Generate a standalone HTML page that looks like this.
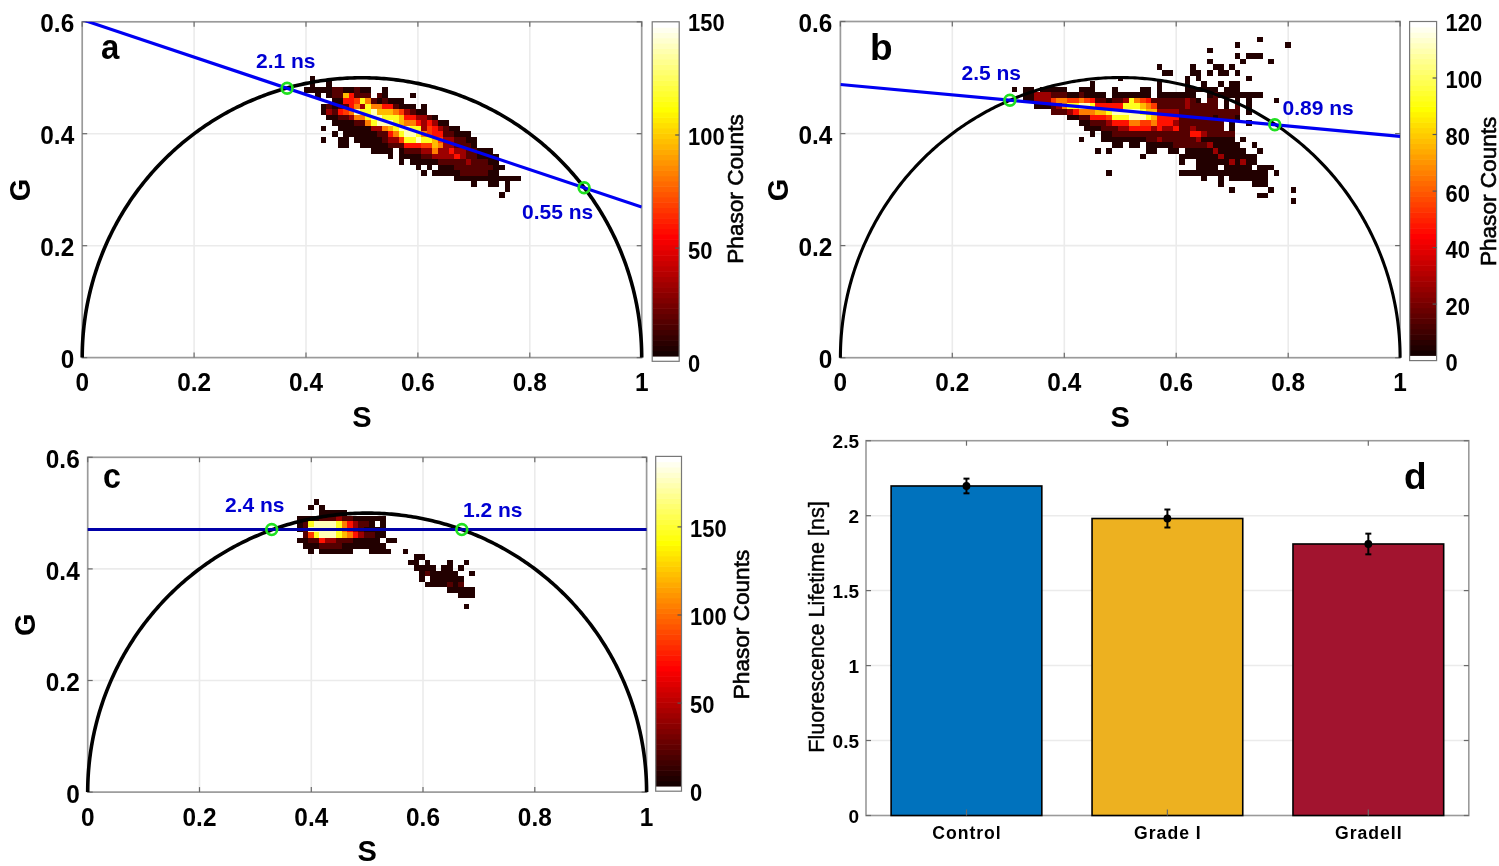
<!DOCTYPE html><html><head><meta charset="utf-8"><style>html,body{margin:0;padding:0;background:#fff;width:1499px;height:866px;overflow:hidden}svg{display:block;filter:blur(0.5px)}text{font-family:"Liberation Sans",sans-serif;font-weight:bold}</style></head><body>
<svg width="1499" height="866" viewBox="0 0 1499 866">
<rect width="1499" height="866" fill="#fff"/>
<line x1="194.1" y1="21.8" x2="194.1" y2="357.6" stroke="#ebebeb" stroke-width="1.6"/>
<line x1="306.0" y1="21.8" x2="306.0" y2="357.6" stroke="#ebebeb" stroke-width="1.6"/>
<line x1="417.9" y1="21.8" x2="417.9" y2="357.6" stroke="#ebebeb" stroke-width="1.6"/>
<line x1="529.8" y1="21.8" x2="529.8" y2="357.6" stroke="#ebebeb" stroke-width="1.6"/>
<line x1="82.2" y1="245.7" x2="641.7" y2="245.7" stroke="#ebebeb" stroke-width="1.6"/>
<line x1="82.2" y1="133.7" x2="641.7" y2="133.7" stroke="#ebebeb" stroke-width="1.6"/>
<rect x="82.2" y="21.8" width="559.5" height="335.8" fill="none" stroke="#9a9a9a" stroke-width="1.7"/>
<line x1="82.2" y1="357.6" x2="82.2" y2="352.6" stroke="#6a6a6a" stroke-width="1.2"/>
<line x1="82.2" y1="21.8" x2="82.2" y2="26.8" stroke="#6a6a6a" stroke-width="1.2"/>
<line x1="194.1" y1="357.6" x2="194.1" y2="352.6" stroke="#6a6a6a" stroke-width="1.2"/>
<line x1="194.1" y1="21.8" x2="194.1" y2="26.8" stroke="#6a6a6a" stroke-width="1.2"/>
<line x1="306.0" y1="357.6" x2="306.0" y2="352.6" stroke="#6a6a6a" stroke-width="1.2"/>
<line x1="306.0" y1="21.8" x2="306.0" y2="26.8" stroke="#6a6a6a" stroke-width="1.2"/>
<line x1="417.9" y1="357.6" x2="417.9" y2="352.6" stroke="#6a6a6a" stroke-width="1.2"/>
<line x1="417.9" y1="21.8" x2="417.9" y2="26.8" stroke="#6a6a6a" stroke-width="1.2"/>
<line x1="529.8" y1="357.6" x2="529.8" y2="352.6" stroke="#6a6a6a" stroke-width="1.2"/>
<line x1="529.8" y1="21.8" x2="529.8" y2="26.8" stroke="#6a6a6a" stroke-width="1.2"/>
<line x1="641.7" y1="357.6" x2="641.7" y2="352.6" stroke="#6a6a6a" stroke-width="1.2"/>
<line x1="641.7" y1="21.8" x2="641.7" y2="26.8" stroke="#6a6a6a" stroke-width="1.2"/>
<line x1="82.2" y1="357.6" x2="87.2" y2="357.6" stroke="#6a6a6a" stroke-width="1.2"/>
<line x1="641.7" y1="357.6" x2="636.7" y2="357.6" stroke="#6a6a6a" stroke-width="1.2"/>
<line x1="82.2" y1="245.7" x2="87.2" y2="245.7" stroke="#6a6a6a" stroke-width="1.2"/>
<line x1="641.7" y1="245.7" x2="636.7" y2="245.7" stroke="#6a6a6a" stroke-width="1.2"/>
<line x1="82.2" y1="133.7" x2="87.2" y2="133.7" stroke="#6a6a6a" stroke-width="1.2"/>
<line x1="641.7" y1="133.7" x2="636.7" y2="133.7" stroke="#6a6a6a" stroke-width="1.2"/>
<line x1="82.2" y1="21.8" x2="87.2" y2="21.8" stroke="#6a6a6a" stroke-width="1.2"/>
<line x1="641.7" y1="21.8" x2="636.7" y2="21.8" stroke="#6a6a6a" stroke-width="1.2"/>
<text transform="translate(82.2 391.0) scale(0.920 1)" text-anchor="middle" font-size="26.5">0</text>
<text transform="translate(194.1 391.0) scale(0.920 1)" text-anchor="middle" font-size="26.5">0.2</text>
<text transform="translate(306.0 391.0) scale(0.920 1)" text-anchor="middle" font-size="26.5">0.4</text>
<text transform="translate(417.9 391.0) scale(0.920 1)" text-anchor="middle" font-size="26.5">0.6</text>
<text transform="translate(529.8 391.0) scale(0.920 1)" text-anchor="middle" font-size="26.5">0.8</text>
<text transform="translate(641.7 391.0) scale(0.920 1)" text-anchor="middle" font-size="26.5">1</text>
<text transform="translate(74.2 368.2) scale(0.920 1)" text-anchor="end" font-size="26.5">0</text>
<text transform="translate(74.2 256.3) scale(0.920 1)" text-anchor="end" font-size="26.5">0.2</text>
<text transform="translate(74.2 144.3) scale(0.920 1)" text-anchor="end" font-size="26.5">0.4</text>
<text transform="translate(74.2 32.4) scale(0.920 1)" text-anchor="end" font-size="26.5">0.6</text>
<text x="362.0" y="426.5" text-anchor="middle" font-size="29">S</text>
<text transform="translate(30.3 190.0) rotate(-90)" text-anchor="middle" font-size="29">G</text>
<text transform="translate(101.0 59.2) scale(0.915 1)" font-size="36.0">a</text>
<g shape-rendering="crispEdges">
<rect x="309.67" y="75.90" width="5.57" height="5.55" fill="#220000"/>
<rect x="309.67" y="81.45" width="5.57" height="5.55" fill="#220000"/>
<rect x="326.38" y="81.45" width="5.57" height="5.55" fill="#220000"/>
<rect x="304.10" y="87.00" width="5.57" height="5.55" fill="#220000"/>
<rect x="309.67" y="87.00" width="5.57" height="5.55" fill="#220000"/>
<rect x="315.24" y="87.00" width="5.57" height="5.55" fill="#220000"/>
<rect x="320.81" y="87.00" width="5.57" height="5.55" fill="#220000"/>
<rect x="326.38" y="87.00" width="5.57" height="5.55" fill="#220000"/>
<rect x="331.95" y="87.00" width="5.57" height="5.55" fill="#550000"/>
<rect x="337.52" y="87.00" width="5.57" height="5.55" fill="#550000"/>
<rect x="343.09" y="87.00" width="5.57" height="5.55" fill="#220000"/>
<rect x="348.66" y="87.00" width="5.57" height="5.55" fill="#220000"/>
<rect x="354.23" y="87.00" width="5.57" height="5.55" fill="#550000"/>
<rect x="359.80" y="87.00" width="5.57" height="5.55" fill="#220000"/>
<rect x="365.37" y="87.00" width="5.57" height="5.55" fill="#220000"/>
<rect x="382.08" y="87.00" width="5.57" height="5.55" fill="#220000"/>
<rect x="315.24" y="92.55" width="5.57" height="5.55" fill="#220000"/>
<rect x="326.38" y="92.55" width="5.57" height="5.55" fill="#220000"/>
<rect x="331.95" y="92.55" width="5.57" height="5.55" fill="#550000"/>
<rect x="337.52" y="92.55" width="5.57" height="5.55" fill="#550000"/>
<rect x="343.09" y="92.55" width="5.57" height="5.55" fill="#ffbb00"/>
<rect x="348.66" y="92.55" width="5.57" height="5.55" fill="#ff1100"/>
<rect x="354.23" y="92.55" width="5.57" height="5.55" fill="#550000"/>
<rect x="359.80" y="92.55" width="5.57" height="5.55" fill="#550000"/>
<rect x="365.37" y="92.55" width="5.57" height="5.55" fill="#550000"/>
<rect x="376.51" y="92.55" width="5.57" height="5.55" fill="#550000"/>
<rect x="382.08" y="92.55" width="5.57" height="5.55" fill="#220000"/>
<rect x="409.93" y="92.55" width="5.57" height="5.55" fill="#220000"/>
<rect x="331.95" y="98.10" width="5.57" height="5.55" fill="#220000"/>
<rect x="337.52" y="98.10" width="5.57" height="5.55" fill="#220000"/>
<rect x="343.09" y="98.10" width="5.57" height="5.55" fill="#ff1100"/>
<rect x="348.66" y="98.10" width="5.57" height="5.55" fill="#ff1100"/>
<rect x="354.23" y="98.10" width="5.57" height="5.55" fill="#ff3a00"/>
<rect x="359.80" y="98.10" width="5.57" height="5.55" fill="#ffff1f"/>
<rect x="365.37" y="98.10" width="5.57" height="5.55" fill="#ff7e00"/>
<rect x="370.94" y="98.10" width="5.57" height="5.55" fill="#550000"/>
<rect x="376.51" y="98.10" width="5.57" height="5.55" fill="#220000"/>
<rect x="382.08" y="98.10" width="5.57" height="5.55" fill="#550000"/>
<rect x="387.65" y="98.10" width="5.57" height="5.55" fill="#220000"/>
<rect x="393.22" y="98.10" width="5.57" height="5.55" fill="#220000"/>
<rect x="398.79" y="98.10" width="5.57" height="5.55" fill="#220000"/>
<rect x="320.81" y="103.65" width="5.57" height="5.55" fill="#220000"/>
<rect x="326.38" y="103.65" width="5.57" height="5.55" fill="#550000"/>
<rect x="331.95" y="103.65" width="5.57" height="5.55" fill="#220000"/>
<rect x="337.52" y="103.65" width="5.57" height="5.55" fill="#550000"/>
<rect x="343.09" y="103.65" width="5.57" height="5.55" fill="#550000"/>
<rect x="348.66" y="103.65" width="5.57" height="5.55" fill="#ff1100"/>
<rect x="354.23" y="103.65" width="5.57" height="5.55" fill="#ff7e00"/>
<rect x="359.80" y="103.65" width="5.57" height="5.55" fill="#9c0000"/>
<rect x="365.37" y="103.65" width="5.57" height="5.55" fill="#ffff1f"/>
<rect x="370.94" y="103.65" width="5.57" height="5.55" fill="#ff7e00"/>
<rect x="376.51" y="103.65" width="5.57" height="5.55" fill="#ff7e00"/>
<rect x="382.08" y="103.65" width="5.57" height="5.55" fill="#ff1100"/>
<rect x="387.65" y="103.65" width="5.57" height="5.55" fill="#ff1100"/>
<rect x="393.22" y="103.65" width="5.57" height="5.55" fill="#550000"/>
<rect x="398.79" y="103.65" width="5.57" height="5.55" fill="#220000"/>
<rect x="404.36" y="103.65" width="5.57" height="5.55" fill="#220000"/>
<rect x="409.93" y="103.65" width="5.57" height="5.55" fill="#220000"/>
<rect x="421.07" y="103.65" width="5.57" height="5.55" fill="#220000"/>
<rect x="320.81" y="109.20" width="5.57" height="5.55" fill="#220000"/>
<rect x="326.38" y="109.20" width="5.57" height="5.55" fill="#9c0000"/>
<rect x="331.95" y="109.20" width="5.57" height="5.55" fill="#550000"/>
<rect x="337.52" y="109.20" width="5.57" height="5.55" fill="#ff1100"/>
<rect x="343.09" y="109.20" width="5.57" height="5.55" fill="#ff3a00"/>
<rect x="348.66" y="109.20" width="5.57" height="5.55" fill="#ff7e00"/>
<rect x="354.23" y="109.20" width="5.57" height="5.55" fill="#ffffb8"/>
<rect x="359.80" y="109.20" width="5.57" height="5.55" fill="#ffff1f"/>
<rect x="365.37" y="109.20" width="5.57" height="5.55" fill="#ffff1f"/>
<rect x="370.94" y="109.20" width="5.57" height="5.55" fill="#ffffb8"/>
<rect x="376.51" y="109.20" width="5.57" height="5.55" fill="#ffbb00"/>
<rect x="382.08" y="109.20" width="5.57" height="5.55" fill="#ffbb00"/>
<rect x="387.65" y="109.20" width="5.57" height="5.55" fill="#ffbb00"/>
<rect x="393.22" y="109.20" width="5.57" height="5.55" fill="#ff7e00"/>
<rect x="398.79" y="109.20" width="5.57" height="5.55" fill="#ff3a00"/>
<rect x="404.36" y="109.20" width="5.57" height="5.55" fill="#9c0000"/>
<rect x="409.93" y="109.20" width="5.57" height="5.55" fill="#550000"/>
<rect x="415.50" y="109.20" width="5.57" height="5.55" fill="#220000"/>
<rect x="421.07" y="109.20" width="5.57" height="5.55" fill="#220000"/>
<rect x="326.38" y="114.75" width="5.57" height="5.55" fill="#220000"/>
<rect x="331.95" y="114.75" width="5.57" height="5.55" fill="#220000"/>
<rect x="337.52" y="114.75" width="5.57" height="5.55" fill="#550000"/>
<rect x="343.09" y="114.75" width="5.57" height="5.55" fill="#550000"/>
<rect x="348.66" y="114.75" width="5.57" height="5.55" fill="#9c0000"/>
<rect x="354.23" y="114.75" width="5.57" height="5.55" fill="#ff7e00"/>
<rect x="359.80" y="114.75" width="5.57" height="5.55" fill="#ff7e00"/>
<rect x="365.37" y="114.75" width="5.57" height="5.55" fill="#ffff1f"/>
<rect x="370.94" y="114.75" width="5.57" height="5.55" fill="#ffffb8"/>
<rect x="376.51" y="114.75" width="5.57" height="5.55" fill="#ffffb8"/>
<rect x="382.08" y="114.75" width="5.57" height="5.55" fill="#ffff1f"/>
<rect x="387.65" y="114.75" width="5.57" height="5.55" fill="#ffff1f"/>
<rect x="393.22" y="114.75" width="5.57" height="5.55" fill="#ffff1f"/>
<rect x="398.79" y="114.75" width="5.57" height="5.55" fill="#ffbb00"/>
<rect x="404.36" y="114.75" width="5.57" height="5.55" fill="#ff1100"/>
<rect x="409.93" y="114.75" width="5.57" height="5.55" fill="#ff1100"/>
<rect x="415.50" y="114.75" width="5.57" height="5.55" fill="#9c0000"/>
<rect x="421.07" y="114.75" width="5.57" height="5.55" fill="#9c0000"/>
<rect x="426.64" y="114.75" width="5.57" height="5.55" fill="#550000"/>
<rect x="432.21" y="114.75" width="5.57" height="5.55" fill="#220000"/>
<rect x="331.95" y="120.30" width="5.57" height="5.55" fill="#220000"/>
<rect x="337.52" y="120.30" width="5.57" height="5.55" fill="#220000"/>
<rect x="343.09" y="120.30" width="5.57" height="5.55" fill="#220000"/>
<rect x="348.66" y="120.30" width="5.57" height="5.55" fill="#220000"/>
<rect x="354.23" y="120.30" width="5.57" height="5.55" fill="#550000"/>
<rect x="359.80" y="120.30" width="5.57" height="5.55" fill="#550000"/>
<rect x="365.37" y="120.30" width="5.57" height="5.55" fill="#ff7e00"/>
<rect x="370.94" y="120.30" width="5.57" height="5.55" fill="#ffff1f"/>
<rect x="376.51" y="120.30" width="5.57" height="5.55" fill="#ffffb8"/>
<rect x="382.08" y="120.30" width="5.57" height="5.55" fill="#ffffb8"/>
<rect x="387.65" y="120.30" width="5.57" height="5.55" fill="#ffffb8"/>
<rect x="393.22" y="120.30" width="5.57" height="5.55" fill="#ffff1f"/>
<rect x="398.79" y="120.30" width="5.57" height="5.55" fill="#ffbb00"/>
<rect x="404.36" y="120.30" width="5.57" height="5.55" fill="#ff7e00"/>
<rect x="409.93" y="120.30" width="5.57" height="5.55" fill="#ff7e00"/>
<rect x="415.50" y="120.30" width="5.57" height="5.55" fill="#ff1100"/>
<rect x="421.07" y="120.30" width="5.57" height="5.55" fill="#9c0000"/>
<rect x="426.64" y="120.30" width="5.57" height="5.55" fill="#ff1100"/>
<rect x="432.21" y="120.30" width="5.57" height="5.55" fill="#9c0000"/>
<rect x="437.78" y="120.30" width="5.57" height="5.55" fill="#220000"/>
<rect x="443.35" y="120.30" width="5.57" height="5.55" fill="#220000"/>
<rect x="320.81" y="125.85" width="5.57" height="5.55" fill="#220000"/>
<rect x="337.52" y="125.85" width="5.57" height="5.55" fill="#220000"/>
<rect x="343.09" y="125.85" width="5.57" height="5.55" fill="#220000"/>
<rect x="348.66" y="125.85" width="5.57" height="5.55" fill="#220000"/>
<rect x="354.23" y="125.85" width="5.57" height="5.55" fill="#220000"/>
<rect x="359.80" y="125.85" width="5.57" height="5.55" fill="#220000"/>
<rect x="365.37" y="125.85" width="5.57" height="5.55" fill="#220000"/>
<rect x="370.94" y="125.85" width="5.57" height="5.55" fill="#9c0000"/>
<rect x="376.51" y="125.85" width="5.57" height="5.55" fill="#9c0000"/>
<rect x="382.08" y="125.85" width="5.57" height="5.55" fill="#ff7e00"/>
<rect x="387.65" y="125.85" width="5.57" height="5.55" fill="#ffbb00"/>
<rect x="393.22" y="125.85" width="5.57" height="5.55" fill="#ffff1f"/>
<rect x="398.79" y="125.85" width="5.57" height="5.55" fill="#ffffb8"/>
<rect x="404.36" y="125.85" width="5.57" height="5.55" fill="#ffffb8"/>
<rect x="409.93" y="125.85" width="5.57" height="5.55" fill="#ffff1f"/>
<rect x="415.50" y="125.85" width="5.57" height="5.55" fill="#ffff1f"/>
<rect x="421.07" y="125.85" width="5.57" height="5.55" fill="#9c0000"/>
<rect x="426.64" y="125.85" width="5.57" height="5.55" fill="#ff3a00"/>
<rect x="432.21" y="125.85" width="5.57" height="5.55" fill="#ff1100"/>
<rect x="437.78" y="125.85" width="5.57" height="5.55" fill="#9c0000"/>
<rect x="443.35" y="125.85" width="5.57" height="5.55" fill="#550000"/>
<rect x="448.92" y="125.85" width="5.57" height="5.55" fill="#220000"/>
<rect x="454.49" y="125.85" width="5.57" height="5.55" fill="#220000"/>
<rect x="331.95" y="131.40" width="5.57" height="5.55" fill="#220000"/>
<rect x="343.09" y="131.40" width="5.57" height="5.55" fill="#220000"/>
<rect x="348.66" y="131.40" width="5.57" height="5.55" fill="#220000"/>
<rect x="354.23" y="131.40" width="5.57" height="5.55" fill="#220000"/>
<rect x="359.80" y="131.40" width="5.57" height="5.55" fill="#220000"/>
<rect x="365.37" y="131.40" width="5.57" height="5.55" fill="#220000"/>
<rect x="370.94" y="131.40" width="5.57" height="5.55" fill="#220000"/>
<rect x="376.51" y="131.40" width="5.57" height="5.55" fill="#550000"/>
<rect x="382.08" y="131.40" width="5.57" height="5.55" fill="#550000"/>
<rect x="387.65" y="131.40" width="5.57" height="5.55" fill="#ff1100"/>
<rect x="393.22" y="131.40" width="5.57" height="5.55" fill="#ff7e00"/>
<rect x="398.79" y="131.40" width="5.57" height="5.55" fill="#ffff1f"/>
<rect x="404.36" y="131.40" width="5.57" height="5.55" fill="#ffffb8"/>
<rect x="409.93" y="131.40" width="5.57" height="5.55" fill="#ffffb8"/>
<rect x="415.50" y="131.40" width="5.57" height="5.55" fill="#ffff1f"/>
<rect x="421.07" y="131.40" width="5.57" height="5.55" fill="#ff7e00"/>
<rect x="426.64" y="131.40" width="5.57" height="5.55" fill="#ff3a00"/>
<rect x="432.21" y="131.40" width="5.57" height="5.55" fill="#ff1100"/>
<rect x="437.78" y="131.40" width="5.57" height="5.55" fill="#ff1100"/>
<rect x="443.35" y="131.40" width="5.57" height="5.55" fill="#550000"/>
<rect x="448.92" y="131.40" width="5.57" height="5.55" fill="#550000"/>
<rect x="454.49" y="131.40" width="5.57" height="5.55" fill="#220000"/>
<rect x="460.06" y="131.40" width="5.57" height="5.55" fill="#220000"/>
<rect x="465.63" y="131.40" width="5.57" height="5.55" fill="#220000"/>
<rect x="320.81" y="136.95" width="5.57" height="5.55" fill="#220000"/>
<rect x="337.52" y="136.95" width="5.57" height="5.55" fill="#220000"/>
<rect x="343.09" y="136.95" width="5.57" height="5.55" fill="#220000"/>
<rect x="354.23" y="136.95" width="5.57" height="5.55" fill="#220000"/>
<rect x="359.80" y="136.95" width="5.57" height="5.55" fill="#220000"/>
<rect x="365.37" y="136.95" width="5.57" height="5.55" fill="#220000"/>
<rect x="370.94" y="136.95" width="5.57" height="5.55" fill="#220000"/>
<rect x="376.51" y="136.95" width="5.57" height="5.55" fill="#220000"/>
<rect x="382.08" y="136.95" width="5.57" height="5.55" fill="#550000"/>
<rect x="387.65" y="136.95" width="5.57" height="5.55" fill="#9c0000"/>
<rect x="393.22" y="136.95" width="5.57" height="5.55" fill="#9c0000"/>
<rect x="398.79" y="136.95" width="5.57" height="5.55" fill="#ff3a00"/>
<rect x="404.36" y="136.95" width="5.57" height="5.55" fill="#ffff1f"/>
<rect x="409.93" y="136.95" width="5.57" height="5.55" fill="#ffff1f"/>
<rect x="415.50" y="136.95" width="5.57" height="5.55" fill="#ffffb8"/>
<rect x="421.07" y="136.95" width="5.57" height="5.55" fill="#ffff1f"/>
<rect x="426.64" y="136.95" width="5.57" height="5.55" fill="#ffff1f"/>
<rect x="432.21" y="136.95" width="5.57" height="5.55" fill="#ffbb00"/>
<rect x="437.78" y="136.95" width="5.57" height="5.55" fill="#ff3a00"/>
<rect x="443.35" y="136.95" width="5.57" height="5.55" fill="#9c0000"/>
<rect x="448.92" y="136.95" width="5.57" height="5.55" fill="#9c0000"/>
<rect x="454.49" y="136.95" width="5.57" height="5.55" fill="#550000"/>
<rect x="460.06" y="136.95" width="5.57" height="5.55" fill="#550000"/>
<rect x="465.63" y="136.95" width="5.57" height="5.55" fill="#220000"/>
<rect x="471.20" y="136.95" width="5.57" height="5.55" fill="#220000"/>
<rect x="337.52" y="142.50" width="5.57" height="5.55" fill="#220000"/>
<rect x="343.09" y="142.50" width="5.57" height="5.55" fill="#220000"/>
<rect x="359.80" y="142.50" width="5.57" height="5.55" fill="#220000"/>
<rect x="365.37" y="142.50" width="5.57" height="5.55" fill="#220000"/>
<rect x="370.94" y="142.50" width="5.57" height="5.55" fill="#220000"/>
<rect x="376.51" y="142.50" width="5.57" height="5.55" fill="#220000"/>
<rect x="382.08" y="142.50" width="5.57" height="5.55" fill="#220000"/>
<rect x="387.65" y="142.50" width="5.57" height="5.55" fill="#550000"/>
<rect x="393.22" y="142.50" width="5.57" height="5.55" fill="#550000"/>
<rect x="398.79" y="142.50" width="5.57" height="5.55" fill="#550000"/>
<rect x="404.36" y="142.50" width="5.57" height="5.55" fill="#ff1100"/>
<rect x="409.93" y="142.50" width="5.57" height="5.55" fill="#ff1100"/>
<rect x="415.50" y="142.50" width="5.57" height="5.55" fill="#ff1100"/>
<rect x="421.07" y="142.50" width="5.57" height="5.55" fill="#ff3a00"/>
<rect x="426.64" y="142.50" width="5.57" height="5.55" fill="#ff3a00"/>
<rect x="432.21" y="142.50" width="5.57" height="5.55" fill="#ffbb00"/>
<rect x="437.78" y="142.50" width="5.57" height="5.55" fill="#ff7e00"/>
<rect x="443.35" y="142.50" width="5.57" height="5.55" fill="#9c0000"/>
<rect x="448.92" y="142.50" width="5.57" height="5.55" fill="#9c0000"/>
<rect x="454.49" y="142.50" width="5.57" height="5.55" fill="#550000"/>
<rect x="460.06" y="142.50" width="5.57" height="5.55" fill="#550000"/>
<rect x="465.63" y="142.50" width="5.57" height="5.55" fill="#550000"/>
<rect x="471.20" y="142.50" width="5.57" height="5.55" fill="#220000"/>
<rect x="370.94" y="148.05" width="5.57" height="5.55" fill="#220000"/>
<rect x="376.51" y="148.05" width="5.57" height="5.55" fill="#220000"/>
<rect x="382.08" y="148.05" width="5.57" height="5.55" fill="#220000"/>
<rect x="387.65" y="148.05" width="5.57" height="5.55" fill="#220000"/>
<rect x="398.79" y="148.05" width="5.57" height="5.55" fill="#220000"/>
<rect x="404.36" y="148.05" width="5.57" height="5.55" fill="#550000"/>
<rect x="409.93" y="148.05" width="5.57" height="5.55" fill="#550000"/>
<rect x="415.50" y="148.05" width="5.57" height="5.55" fill="#550000"/>
<rect x="421.07" y="148.05" width="5.57" height="5.55" fill="#9c0000"/>
<rect x="426.64" y="148.05" width="5.57" height="5.55" fill="#9c0000"/>
<rect x="432.21" y="148.05" width="5.57" height="5.55" fill="#ff7e00"/>
<rect x="437.78" y="148.05" width="5.57" height="5.55" fill="#9c0000"/>
<rect x="443.35" y="148.05" width="5.57" height="5.55" fill="#9c0000"/>
<rect x="448.92" y="148.05" width="5.57" height="5.55" fill="#ff1100"/>
<rect x="454.49" y="148.05" width="5.57" height="5.55" fill="#9c0000"/>
<rect x="460.06" y="148.05" width="5.57" height="5.55" fill="#9c0000"/>
<rect x="465.63" y="148.05" width="5.57" height="5.55" fill="#550000"/>
<rect x="471.20" y="148.05" width="5.57" height="5.55" fill="#550000"/>
<rect x="476.77" y="148.05" width="5.57" height="5.55" fill="#220000"/>
<rect x="482.34" y="148.05" width="5.57" height="5.55" fill="#220000"/>
<rect x="487.91" y="148.05" width="5.57" height="5.55" fill="#220000"/>
<rect x="387.65" y="153.60" width="5.57" height="5.55" fill="#220000"/>
<rect x="398.79" y="153.60" width="5.57" height="5.55" fill="#220000"/>
<rect x="404.36" y="153.60" width="5.57" height="5.55" fill="#220000"/>
<rect x="409.93" y="153.60" width="5.57" height="5.55" fill="#220000"/>
<rect x="415.50" y="153.60" width="5.57" height="5.55" fill="#220000"/>
<rect x="421.07" y="153.60" width="5.57" height="5.55" fill="#550000"/>
<rect x="426.64" y="153.60" width="5.57" height="5.55" fill="#550000"/>
<rect x="432.21" y="153.60" width="5.57" height="5.55" fill="#9c0000"/>
<rect x="437.78" y="153.60" width="5.57" height="5.55" fill="#9c0000"/>
<rect x="443.35" y="153.60" width="5.57" height="5.55" fill="#9c0000"/>
<rect x="448.92" y="153.60" width="5.57" height="5.55" fill="#9c0000"/>
<rect x="454.49" y="153.60" width="5.57" height="5.55" fill="#ff1100"/>
<rect x="460.06" y="153.60" width="5.57" height="5.55" fill="#9c0000"/>
<rect x="465.63" y="153.60" width="5.57" height="5.55" fill="#550000"/>
<rect x="471.20" y="153.60" width="5.57" height="5.55" fill="#550000"/>
<rect x="476.77" y="153.60" width="5.57" height="5.55" fill="#220000"/>
<rect x="482.34" y="153.60" width="5.57" height="5.55" fill="#220000"/>
<rect x="487.91" y="153.60" width="5.57" height="5.55" fill="#220000"/>
<rect x="493.48" y="153.60" width="5.57" height="5.55" fill="#220000"/>
<rect x="398.79" y="159.15" width="5.57" height="5.55" fill="#220000"/>
<rect x="409.93" y="159.15" width="5.57" height="5.55" fill="#220000"/>
<rect x="415.50" y="159.15" width="5.57" height="5.55" fill="#220000"/>
<rect x="421.07" y="159.15" width="5.57" height="5.55" fill="#220000"/>
<rect x="426.64" y="159.15" width="5.57" height="5.55" fill="#220000"/>
<rect x="432.21" y="159.15" width="5.57" height="5.55" fill="#220000"/>
<rect x="437.78" y="159.15" width="5.57" height="5.55" fill="#550000"/>
<rect x="443.35" y="159.15" width="5.57" height="5.55" fill="#550000"/>
<rect x="448.92" y="159.15" width="5.57" height="5.55" fill="#550000"/>
<rect x="454.49" y="159.15" width="5.57" height="5.55" fill="#550000"/>
<rect x="460.06" y="159.15" width="5.57" height="5.55" fill="#550000"/>
<rect x="465.63" y="159.15" width="5.57" height="5.55" fill="#9c0000"/>
<rect x="471.20" y="159.15" width="5.57" height="5.55" fill="#550000"/>
<rect x="476.77" y="159.15" width="5.57" height="5.55" fill="#550000"/>
<rect x="482.34" y="159.15" width="5.57" height="5.55" fill="#550000"/>
<rect x="487.91" y="159.15" width="5.57" height="5.55" fill="#220000"/>
<rect x="493.48" y="159.15" width="5.57" height="5.55" fill="#220000"/>
<rect x="415.50" y="164.70" width="5.57" height="5.55" fill="#220000"/>
<rect x="426.64" y="164.70" width="5.57" height="5.55" fill="#220000"/>
<rect x="437.78" y="164.70" width="5.57" height="5.55" fill="#220000"/>
<rect x="443.35" y="164.70" width="5.57" height="5.55" fill="#220000"/>
<rect x="448.92" y="164.70" width="5.57" height="5.55" fill="#220000"/>
<rect x="454.49" y="164.70" width="5.57" height="5.55" fill="#550000"/>
<rect x="460.06" y="164.70" width="5.57" height="5.55" fill="#550000"/>
<rect x="465.63" y="164.70" width="5.57" height="5.55" fill="#550000"/>
<rect x="471.20" y="164.70" width="5.57" height="5.55" fill="#550000"/>
<rect x="476.77" y="164.70" width="5.57" height="5.55" fill="#550000"/>
<rect x="482.34" y="164.70" width="5.57" height="5.55" fill="#550000"/>
<rect x="487.91" y="164.70" width="5.57" height="5.55" fill="#550000"/>
<rect x="493.48" y="164.70" width="5.57" height="5.55" fill="#220000"/>
<rect x="499.05" y="164.70" width="5.57" height="5.55" fill="#220000"/>
<rect x="421.07" y="170.25" width="5.57" height="5.55" fill="#220000"/>
<rect x="432.21" y="170.25" width="5.57" height="5.55" fill="#220000"/>
<rect x="437.78" y="170.25" width="5.57" height="5.55" fill="#220000"/>
<rect x="443.35" y="170.25" width="5.57" height="5.55" fill="#220000"/>
<rect x="448.92" y="170.25" width="5.57" height="5.55" fill="#220000"/>
<rect x="454.49" y="170.25" width="5.57" height="5.55" fill="#220000"/>
<rect x="460.06" y="170.25" width="5.57" height="5.55" fill="#550000"/>
<rect x="465.63" y="170.25" width="5.57" height="5.55" fill="#550000"/>
<rect x="471.20" y="170.25" width="5.57" height="5.55" fill="#550000"/>
<rect x="476.77" y="170.25" width="5.57" height="5.55" fill="#550000"/>
<rect x="482.34" y="170.25" width="5.57" height="5.55" fill="#550000"/>
<rect x="487.91" y="170.25" width="5.57" height="5.55" fill="#220000"/>
<rect x="493.48" y="170.25" width="5.57" height="5.55" fill="#220000"/>
<rect x="454.49" y="175.80" width="5.57" height="5.55" fill="#220000"/>
<rect x="460.06" y="175.80" width="5.57" height="5.55" fill="#220000"/>
<rect x="465.63" y="175.80" width="5.57" height="5.55" fill="#220000"/>
<rect x="471.20" y="175.80" width="5.57" height="5.55" fill="#220000"/>
<rect x="476.77" y="175.80" width="5.57" height="5.55" fill="#220000"/>
<rect x="482.34" y="175.80" width="5.57" height="5.55" fill="#220000"/>
<rect x="487.91" y="175.80" width="5.57" height="5.55" fill="#220000"/>
<rect x="493.48" y="175.80" width="5.57" height="5.55" fill="#220000"/>
<rect x="499.05" y="175.80" width="5.57" height="5.55" fill="#220000"/>
<rect x="504.62" y="175.80" width="5.57" height="5.55" fill="#220000"/>
<rect x="510.19" y="175.80" width="5.57" height="5.55" fill="#220000"/>
<rect x="515.76" y="175.80" width="5.57" height="5.55" fill="#220000"/>
<rect x="471.20" y="181.35" width="5.57" height="5.55" fill="#220000"/>
<rect x="487.91" y="181.35" width="5.57" height="5.55" fill="#220000"/>
<rect x="493.48" y="181.35" width="5.57" height="5.55" fill="#220000"/>
<rect x="504.62" y="181.35" width="5.57" height="5.55" fill="#220000"/>
<rect x="504.62" y="186.90" width="5.57" height="5.55" fill="#220000"/>
<rect x="499.05" y="192.45" width="5.57" height="5.55" fill="#220000"/>
</g>
<polyline points="82.20,357.60 82.21,355.16 82.24,352.72 82.30,350.27 82.37,347.83 82.47,345.39 82.58,342.95 82.72,340.52 82.88,338.08 83.06,335.64 83.26,333.21 83.49,330.78 83.73,328.35 84.00,325.92 84.29,323.50 84.59,321.07 84.92,318.65 85.27,316.24 85.64,313.82 86.04,311.41 86.45,309.01 86.88,306.60 87.34,304.21 87.82,301.81 88.31,299.42 88.83,297.03 89.37,294.65 89.93,292.27 90.51,289.90 91.11,287.54 91.73,285.17 92.37,282.82 93.04,280.47 93.72,278.12 94.42,275.78 95.15,273.45 95.89,271.13 96.66,268.81 97.44,266.50 98.25,264.19 99.07,261.89 99.92,259.60 100.78,257.32 101.67,255.04 102.57,252.77 103.49,250.51 104.44,248.26 105.40,246.02 106.39,243.78 107.39,241.56 108.41,239.34 109.45,237.13 110.51,234.93 111.59,232.74 112.69,230.56 113.81,228.39 114.95,226.23 116.10,224.08 117.28,221.93 118.47,219.80 119.68,217.68 120.91,215.57 122.16,213.48 123.42,211.39 124.71,209.31 126.01,207.25 127.33,205.19 128.67,203.15 130.03,201.12 131.40,199.10 132.79,197.09 134.20,195.10 135.63,193.12 137.07,191.15 138.53,189.19 140.01,187.25 141.50,185.32 143.02,183.40 144.54,181.50 146.09,179.60 147.65,177.73 149.23,175.86 150.82,174.01 152.43,172.18 154.06,170.35 155.70,168.55 157.35,166.75 159.03,164.98 160.71,163.21 162.42,161.46 164.14,159.73 165.87,158.01 167.62,156.30 169.38,154.62 171.16,152.94 172.95,151.29 174.76,149.64 176.58,148.02 178.42,146.41 180.27,144.81 182.13,143.24 184.01,141.67 185.90,140.13 187.80,138.60 189.72,137.09 191.65,135.59 193.59,134.12 195.55,132.65 197.52,131.21 199.50,129.78 201.49,128.37 203.50,126.98 205.52,125.61 207.55,124.25 209.59,122.91 211.64,121.59 213.71,120.29 215.78,119.00 217.87,117.74 219.97,116.49 222.07,115.26 224.19,114.05 226.32,112.85 228.46,111.68 230.62,110.52 232.78,109.38 234.95,108.27 237.13,107.17 239.32,106.09 241.51,105.03 243.72,103.98 245.94,102.96 248.17,101.96 250.40,100.98 252.64,100.01 254.89,99.07 257.15,98.14 259.42,97.24 261.70,96.35 263.98,95.49 266.27,94.64 268.57,93.82 270.87,93.01 273.18,92.23 275.50,91.46 277.83,90.72 280.16,89.99 282.50,89.29 284.84,88.61 287.19,87.94 289.55,87.30 291.91,86.68 294.27,86.08 296.64,85.50 299.02,84.94 301.40,84.40 303.79,83.88 306.18,83.38 308.57,82.91 310.97,82.45 313.37,82.02 315.78,81.60 318.19,81.21 320.60,80.84 323.02,80.49 325.44,80.16 327.86,79.85 330.28,79.57 332.71,79.30 335.14,79.05 337.57,78.83 340.00,78.63 342.44,78.45 344.87,78.29 347.31,78.15 349.75,78.03 352.19,77.94 354.63,77.86 357.07,77.81 359.51,77.78 361.95,77.77 364.39,77.78 366.83,77.81 369.27,77.86 371.71,77.94 374.15,78.03 376.59,78.15 379.03,78.29 381.46,78.45 383.90,78.63 386.33,78.83 388.76,79.05 391.19,79.30 393.62,79.57 396.04,79.85 398.46,80.16 400.88,80.49 403.30,80.84 405.71,81.21 408.12,81.60 410.53,82.02 412.93,82.45 415.33,82.91 417.72,83.38 420.11,83.88 422.50,84.40 424.88,84.94 427.26,85.50 429.63,86.08 431.99,86.68 434.35,87.30 436.71,87.94 439.06,88.61 441.40,89.29 443.74,89.99 446.07,90.72 448.40,91.46 450.72,92.23 453.03,93.01 455.33,93.82 457.63,94.64 459.92,95.49 462.20,96.35 464.48,97.24 466.75,98.14 469.01,99.07 471.26,100.01 473.50,100.98 475.73,101.96 477.96,102.96 480.18,103.98 482.39,105.03 484.58,106.09 486.77,107.17 488.95,108.27 491.12,109.38 493.28,110.52 495.44,111.68 497.58,112.85 499.71,114.05 501.82,115.26 503.93,116.49 506.03,117.74 508.12,119.00 510.19,120.29 512.26,121.59 514.31,122.91 516.35,124.25 518.38,125.61 520.40,126.98 522.41,128.37 524.40,129.78 526.38,131.21 528.35,132.65 530.31,134.12 532.25,135.59 534.18,137.09 536.10,138.60 538.00,140.13 539.89,141.67 541.77,143.24 543.63,144.81 545.48,146.41 547.32,148.02 549.14,149.64 550.95,151.29 552.74,152.94 554.52,154.62 556.28,156.30 558.03,158.01 559.76,159.73 561.48,161.46 563.19,163.21 564.87,164.98 566.55,166.75 568.20,168.55 569.84,170.35 571.47,172.18 573.08,174.01 574.67,175.86 576.25,177.73 577.81,179.60 579.36,181.50 580.88,183.40 582.40,185.32 583.89,187.25 585.37,189.19 586.83,191.15 588.27,193.12 589.70,195.10 591.11,197.09 592.50,199.10 593.87,201.12 595.23,203.15 596.57,205.19 597.89,207.25 599.19,209.31 600.48,211.39 601.74,213.48 602.99,215.57 604.22,217.68 605.43,219.80 606.62,221.93 607.80,224.08 608.95,226.23 610.09,228.39 611.21,230.56 612.31,232.74 613.39,234.93 614.45,237.13 615.49,239.34 616.51,241.56 617.51,243.78 618.50,246.02 619.46,248.26 620.41,250.51 621.33,252.77 622.23,255.04 623.12,257.32 623.98,259.60 624.83,261.89 625.65,264.19 626.46,266.50 627.24,268.81 628.01,271.13 628.75,273.45 629.48,275.78 630.18,278.12 630.86,280.47 631.53,282.82 632.17,285.17 632.79,287.54 633.39,289.90 633.97,292.27 634.53,294.65 635.07,297.03 635.59,299.42 636.08,301.81 636.56,304.21 637.02,306.60 637.45,309.01 637.86,311.41 638.26,313.82 638.63,316.24 638.98,318.65 639.31,321.07 639.61,323.50 639.90,325.92 640.17,328.35 640.41,330.78 640.64,333.21 640.84,335.64 641.02,338.08 641.18,340.52 641.32,342.95 641.43,345.39 641.53,347.83 641.60,350.27 641.66,352.72 641.69,355.16 641.70,357.60" fill="none" stroke="#000" stroke-width="3.60"/>
<clipPath id="ca"><rect x="82.2" y="21.8" width="559.5" height="335.8"/></clipPath>
<g clip-path="url(#ca)"><line x1="82.20" y1="19.72" x2="641.70" y2="206.98" stroke="#0000f2" stroke-width="3.2"/></g>
<circle cx="287.1" cy="88.3" r="5.4" fill="none" stroke="#1fe01f" stroke-width="2.7"/>
<circle cx="584.1" cy="187.7" r="5.4" fill="none" stroke="#1fe01f" stroke-width="2.7"/>
<text x="256.0" y="67.6" font-size="21" fill="#0000d2" text-anchor="start">2.1 ns</text>
<text x="522.0" y="219.0" font-size="21" fill="#0000d2" text-anchor="start">0.55 ns</text>
<rect x="652.20" y="356.00" width="27.00" height="5.90" fill="#ffffff"/>
<rect x="652.20" y="350.69" width="27.00" height="5.90" fill="#150000"/>
<rect x="652.20" y="345.39" width="27.00" height="5.90" fill="#200000"/>
<rect x="652.20" y="340.08" width="27.00" height="5.90" fill="#2a0000"/>
<rect x="652.20" y="334.78" width="27.00" height="5.90" fill="#350000"/>
<rect x="652.20" y="329.47" width="27.00" height="5.90" fill="#400000"/>
<rect x="652.20" y="324.17" width="27.00" height="5.90" fill="#4a0000"/>
<rect x="652.20" y="318.86" width="27.00" height="5.90" fill="#550000"/>
<rect x="652.20" y="313.56" width="27.00" height="5.90" fill="#600000"/>
<rect x="652.20" y="308.25" width="27.00" height="5.90" fill="#6a0000"/>
<rect x="652.20" y="302.95" width="27.00" height="5.90" fill="#750000"/>
<rect x="652.20" y="297.64" width="27.00" height="5.90" fill="#800000"/>
<rect x="652.20" y="292.34" width="27.00" height="5.90" fill="#8a0000"/>
<rect x="652.20" y="287.03" width="27.00" height="5.90" fill="#950000"/>
<rect x="652.20" y="281.73" width="27.00" height="5.90" fill="#9f0000"/>
<rect x="652.20" y="276.43" width="27.00" height="5.90" fill="#aa0000"/>
<rect x="652.20" y="271.12" width="27.00" height="5.90" fill="#b50000"/>
<rect x="652.20" y="265.82" width="27.00" height="5.90" fill="#bf0000"/>
<rect x="652.20" y="260.51" width="27.00" height="5.90" fill="#ca0000"/>
<rect x="652.20" y="255.21" width="27.00" height="5.90" fill="#d40000"/>
<rect x="652.20" y="249.90" width="27.00" height="5.90" fill="#df0000"/>
<rect x="652.20" y="244.60" width="27.00" height="5.90" fill="#ea0000"/>
<rect x="652.20" y="239.29" width="27.00" height="5.90" fill="#f40000"/>
<rect x="652.20" y="233.99" width="27.00" height="5.90" fill="#ff0000"/>
<rect x="652.20" y="228.68" width="27.00" height="5.90" fill="#ff0b00"/>
<rect x="652.20" y="223.38" width="27.00" height="5.90" fill="#ff1500"/>
<rect x="652.20" y="218.07" width="27.00" height="5.90" fill="#ff2000"/>
<rect x="652.20" y="212.77" width="27.00" height="5.90" fill="#ff2a00"/>
<rect x="652.20" y="207.46" width="27.00" height="5.90" fill="#ff3500"/>
<rect x="652.20" y="202.16" width="27.00" height="5.90" fill="#ff4000"/>
<rect x="652.20" y="196.85" width="27.00" height="5.90" fill="#ff4a00"/>
<rect x="652.20" y="191.55" width="27.00" height="5.90" fill="#ff5500"/>
<rect x="652.20" y="186.25" width="27.00" height="5.90" fill="#ff6000"/>
<rect x="652.20" y="180.94" width="27.00" height="5.90" fill="#ff6a00"/>
<rect x="652.20" y="175.64" width="27.00" height="5.90" fill="#ff7500"/>
<rect x="652.20" y="170.33" width="27.00" height="5.90" fill="#ff8000"/>
<rect x="652.20" y="165.03" width="27.00" height="5.90" fill="#ff8a00"/>
<rect x="652.20" y="159.72" width="27.00" height="5.90" fill="#ff9500"/>
<rect x="652.20" y="154.42" width="27.00" height="5.90" fill="#ff9f00"/>
<rect x="652.20" y="149.11" width="27.00" height="5.90" fill="#ffaa00"/>
<rect x="652.20" y="143.81" width="27.00" height="5.90" fill="#ffb500"/>
<rect x="652.20" y="138.50" width="27.00" height="5.90" fill="#ffbf00"/>
<rect x="652.20" y="133.20" width="27.00" height="5.90" fill="#ffca00"/>
<rect x="652.20" y="127.89" width="27.00" height="5.90" fill="#ffd400"/>
<rect x="652.20" y="122.59" width="27.00" height="5.90" fill="#ffdf00"/>
<rect x="652.20" y="117.28" width="27.00" height="5.90" fill="#ffea00"/>
<rect x="652.20" y="111.98" width="27.00" height="5.90" fill="#fff400"/>
<rect x="652.20" y="106.68" width="27.00" height="5.90" fill="#ffff00"/>
<rect x="652.20" y="101.37" width="27.00" height="5.90" fill="#ffff10"/>
<rect x="652.20" y="96.07" width="27.00" height="5.90" fill="#ffff20"/>
<rect x="652.20" y="90.76" width="27.00" height="5.90" fill="#ffff30"/>
<rect x="652.20" y="85.46" width="27.00" height="5.90" fill="#ffff40"/>
<rect x="652.20" y="80.15" width="27.00" height="5.90" fill="#ffff50"/>
<rect x="652.20" y="74.85" width="27.00" height="5.90" fill="#ffff60"/>
<rect x="652.20" y="69.54" width="27.00" height="5.90" fill="#ffff70"/>
<rect x="652.20" y="64.24" width="27.00" height="5.90" fill="#ffff80"/>
<rect x="652.20" y="58.93" width="27.00" height="5.90" fill="#ffff8f"/>
<rect x="652.20" y="53.63" width="27.00" height="5.90" fill="#ffff9f"/>
<rect x="652.20" y="48.32" width="27.00" height="5.90" fill="#ffffaf"/>
<rect x="652.20" y="43.02" width="27.00" height="5.90" fill="#ffffbf"/>
<rect x="652.20" y="37.71" width="27.00" height="5.90" fill="#ffffcf"/>
<rect x="652.20" y="32.41" width="27.00" height="5.90" fill="#ffffdf"/>
<rect x="652.20" y="27.10" width="27.00" height="5.90" fill="#ffffef"/>
<rect x="652.20" y="21.80" width="27.00" height="5.90" fill="#ffffff"/>
<rect x="652.2" y="21.8" width="27.0" height="339.5" fill="none" stroke="#777" stroke-width="1.2"/>
<text transform="translate(688.0 371.7) scale(0.945 1)" font-size="23.2">0</text>
<line x1="675.2" y1="248.1" x2="679.2" y2="248.1" stroke="#555" stroke-width="1.2"/>
<text transform="translate(688.0 258.5) scale(0.945 1)" font-size="23.2">50</text>
<line x1="675.2" y1="135.0" x2="679.2" y2="135.0" stroke="#555" stroke-width="1.2"/>
<text transform="translate(688.0 145.4) scale(0.945 1)" font-size="23.2">100</text>
<text transform="translate(688.0 31.0) scale(0.945 1)" font-size="23.2">150</text>
<text transform="translate(743.0 189.0) rotate(-90)" text-anchor="middle" font-size="22.6" style="font-weight:normal" stroke="#000" stroke-width="0.6">Phasor Counts</text>
<line x1="952.3" y1="21.5" x2="952.3" y2="357.7" stroke="#ebebeb" stroke-width="1.6"/>
<line x1="1064.3" y1="21.5" x2="1064.3" y2="357.7" stroke="#ebebeb" stroke-width="1.6"/>
<line x1="1176.2" y1="21.5" x2="1176.2" y2="357.7" stroke="#ebebeb" stroke-width="1.6"/>
<line x1="1288.2" y1="21.5" x2="1288.2" y2="357.7" stroke="#ebebeb" stroke-width="1.6"/>
<line x1="840.4" y1="245.6" x2="1400.1" y2="245.6" stroke="#ebebeb" stroke-width="1.6"/>
<line x1="840.4" y1="133.6" x2="1400.1" y2="133.6" stroke="#ebebeb" stroke-width="1.6"/>
<rect x="840.4" y="21.5" width="559.7" height="336.2" fill="none" stroke="#9a9a9a" stroke-width="1.7"/>
<line x1="840.4" y1="357.7" x2="840.4" y2="352.7" stroke="#6a6a6a" stroke-width="1.2"/>
<line x1="840.4" y1="21.5" x2="840.4" y2="26.5" stroke="#6a6a6a" stroke-width="1.2"/>
<line x1="952.3" y1="357.7" x2="952.3" y2="352.7" stroke="#6a6a6a" stroke-width="1.2"/>
<line x1="952.3" y1="21.5" x2="952.3" y2="26.5" stroke="#6a6a6a" stroke-width="1.2"/>
<line x1="1064.3" y1="357.7" x2="1064.3" y2="352.7" stroke="#6a6a6a" stroke-width="1.2"/>
<line x1="1064.3" y1="21.5" x2="1064.3" y2="26.5" stroke="#6a6a6a" stroke-width="1.2"/>
<line x1="1176.2" y1="357.7" x2="1176.2" y2="352.7" stroke="#6a6a6a" stroke-width="1.2"/>
<line x1="1176.2" y1="21.5" x2="1176.2" y2="26.5" stroke="#6a6a6a" stroke-width="1.2"/>
<line x1="1288.2" y1="357.7" x2="1288.2" y2="352.7" stroke="#6a6a6a" stroke-width="1.2"/>
<line x1="1288.2" y1="21.5" x2="1288.2" y2="26.5" stroke="#6a6a6a" stroke-width="1.2"/>
<line x1="1400.1" y1="357.7" x2="1400.1" y2="352.7" stroke="#6a6a6a" stroke-width="1.2"/>
<line x1="1400.1" y1="21.5" x2="1400.1" y2="26.5" stroke="#6a6a6a" stroke-width="1.2"/>
<line x1="840.4" y1="357.7" x2="845.4" y2="357.7" stroke="#6a6a6a" stroke-width="1.2"/>
<line x1="1400.1" y1="357.7" x2="1395.1" y2="357.7" stroke="#6a6a6a" stroke-width="1.2"/>
<line x1="840.4" y1="245.6" x2="845.4" y2="245.6" stroke="#6a6a6a" stroke-width="1.2"/>
<line x1="1400.1" y1="245.6" x2="1395.1" y2="245.6" stroke="#6a6a6a" stroke-width="1.2"/>
<line x1="840.4" y1="133.6" x2="845.4" y2="133.6" stroke="#6a6a6a" stroke-width="1.2"/>
<line x1="1400.1" y1="133.6" x2="1395.1" y2="133.6" stroke="#6a6a6a" stroke-width="1.2"/>
<line x1="840.4" y1="21.5" x2="845.4" y2="21.5" stroke="#6a6a6a" stroke-width="1.2"/>
<line x1="1400.1" y1="21.5" x2="1395.1" y2="21.5" stroke="#6a6a6a" stroke-width="1.2"/>
<text transform="translate(840.4 391.1) scale(0.920 1)" text-anchor="middle" font-size="26.5">0</text>
<text transform="translate(952.3 391.1) scale(0.920 1)" text-anchor="middle" font-size="26.5">0.2</text>
<text transform="translate(1064.3 391.1) scale(0.920 1)" text-anchor="middle" font-size="26.5">0.4</text>
<text transform="translate(1176.2 391.1) scale(0.920 1)" text-anchor="middle" font-size="26.5">0.6</text>
<text transform="translate(1288.2 391.1) scale(0.920 1)" text-anchor="middle" font-size="26.5">0.8</text>
<text transform="translate(1400.1 391.1) scale(0.920 1)" text-anchor="middle" font-size="26.5">1</text>
<text transform="translate(832.4 368.3) scale(0.920 1)" text-anchor="end" font-size="26.5">0</text>
<text transform="translate(832.4 256.2) scale(0.920 1)" text-anchor="end" font-size="26.5">0.2</text>
<text transform="translate(832.4 144.2) scale(0.920 1)" text-anchor="end" font-size="26.5">0.4</text>
<text transform="translate(832.4 32.1) scale(0.920 1)" text-anchor="end" font-size="26.5">0.6</text>
<text x="1120.2" y="426.5" text-anchor="middle" font-size="29">S</text>
<text transform="translate(788.0 190.0) rotate(-90)" text-anchor="middle" font-size="29">G</text>
<text transform="translate(870.0 59.5) scale(1.000 1)" font-size="37.0">b</text>
<g shape-rendering="crispEdges">
<rect x="1257.14" y="36.60" width="5.58" height="5.57" fill="#220000"/>
<rect x="1234.82" y="42.17" width="5.58" height="5.57" fill="#220000"/>
<rect x="1285.04" y="42.17" width="5.58" height="5.57" fill="#220000"/>
<rect x="1206.92" y="47.74" width="5.58" height="5.57" fill="#220000"/>
<rect x="1234.82" y="53.31" width="5.58" height="5.57" fill="#220000"/>
<rect x="1245.98" y="53.31" width="5.58" height="5.57" fill="#220000"/>
<rect x="1251.56" y="53.31" width="5.58" height="5.57" fill="#220000"/>
<rect x="1257.14" y="53.31" width="5.58" height="5.57" fill="#220000"/>
<rect x="1206.92" y="58.88" width="5.58" height="5.57" fill="#220000"/>
<rect x="1240.40" y="58.88" width="5.58" height="5.57" fill="#220000"/>
<rect x="1268.30" y="58.88" width="5.58" height="5.57" fill="#220000"/>
<rect x="1156.70" y="64.45" width="5.58" height="5.57" fill="#220000"/>
<rect x="1190.18" y="64.45" width="5.58" height="5.57" fill="#220000"/>
<rect x="1212.50" y="64.45" width="5.58" height="5.57" fill="#220000"/>
<rect x="1218.08" y="64.45" width="5.58" height="5.57" fill="#220000"/>
<rect x="1229.24" y="64.45" width="5.58" height="5.57" fill="#220000"/>
<rect x="1162.28" y="70.02" width="5.58" height="5.57" fill="#220000"/>
<rect x="1167.86" y="70.02" width="5.58" height="5.57" fill="#220000"/>
<rect x="1190.18" y="70.02" width="5.58" height="5.57" fill="#220000"/>
<rect x="1195.76" y="70.02" width="5.58" height="5.57" fill="#220000"/>
<rect x="1206.92" y="70.02" width="5.58" height="5.57" fill="#220000"/>
<rect x="1218.08" y="70.02" width="5.58" height="5.57" fill="#220000"/>
<rect x="1223.66" y="70.02" width="5.58" height="5.57" fill="#220000"/>
<rect x="1234.82" y="70.02" width="5.58" height="5.57" fill="#220000"/>
<rect x="1117.64" y="75.59" width="5.58" height="5.57" fill="#220000"/>
<rect x="1184.60" y="75.59" width="5.58" height="5.57" fill="#220000"/>
<rect x="1195.76" y="75.59" width="5.58" height="5.57" fill="#220000"/>
<rect x="1245.98" y="75.59" width="5.58" height="5.57" fill="#220000"/>
<rect x="1089.74" y="81.16" width="5.58" height="5.57" fill="#220000"/>
<rect x="1156.70" y="81.16" width="5.58" height="5.57" fill="#220000"/>
<rect x="1184.60" y="81.16" width="5.58" height="5.57" fill="#220000"/>
<rect x="1201.34" y="81.16" width="5.58" height="5.57" fill="#220000"/>
<rect x="1218.08" y="81.16" width="5.58" height="5.57" fill="#220000"/>
<rect x="1229.24" y="81.16" width="5.58" height="5.57" fill="#220000"/>
<rect x="1234.82" y="81.16" width="5.58" height="5.57" fill="#220000"/>
<rect x="1011.62" y="86.73" width="5.58" height="5.57" fill="#220000"/>
<rect x="1022.78" y="86.73" width="5.58" height="5.57" fill="#220000"/>
<rect x="1028.36" y="86.73" width="5.58" height="5.57" fill="#220000"/>
<rect x="1039.52" y="86.73" width="5.58" height="5.57" fill="#220000"/>
<rect x="1045.10" y="86.73" width="5.58" height="5.57" fill="#220000"/>
<rect x="1050.68" y="86.73" width="5.58" height="5.57" fill="#220000"/>
<rect x="1056.26" y="86.73" width="5.58" height="5.57" fill="#220000"/>
<rect x="1061.84" y="86.73" width="5.58" height="5.57" fill="#220000"/>
<rect x="1078.58" y="86.73" width="5.58" height="5.57" fill="#220000"/>
<rect x="1084.16" y="86.73" width="5.58" height="5.57" fill="#220000"/>
<rect x="1089.74" y="86.73" width="5.58" height="5.57" fill="#220000"/>
<rect x="1112.06" y="86.73" width="5.58" height="5.57" fill="#220000"/>
<rect x="1139.96" y="86.73" width="5.58" height="5.57" fill="#220000"/>
<rect x="1145.54" y="86.73" width="5.58" height="5.57" fill="#220000"/>
<rect x="1156.70" y="86.73" width="5.58" height="5.57" fill="#220000"/>
<rect x="1184.60" y="86.73" width="5.58" height="5.57" fill="#220000"/>
<rect x="1190.18" y="86.73" width="5.58" height="5.57" fill="#220000"/>
<rect x="1195.76" y="86.73" width="5.58" height="5.57" fill="#220000"/>
<rect x="1201.34" y="86.73" width="5.58" height="5.57" fill="#220000"/>
<rect x="1206.92" y="86.73" width="5.58" height="5.57" fill="#220000"/>
<rect x="1212.50" y="86.73" width="5.58" height="5.57" fill="#220000"/>
<rect x="1223.66" y="86.73" width="5.58" height="5.57" fill="#220000"/>
<rect x="1229.24" y="86.73" width="5.58" height="5.57" fill="#220000"/>
<rect x="1234.82" y="86.73" width="5.58" height="5.57" fill="#220000"/>
<rect x="1022.78" y="92.30" width="5.58" height="5.57" fill="#220000"/>
<rect x="1028.36" y="92.30" width="5.58" height="5.57" fill="#220000"/>
<rect x="1033.94" y="92.30" width="5.58" height="5.57" fill="#9c0000"/>
<rect x="1039.52" y="92.30" width="5.58" height="5.57" fill="#9c0000"/>
<rect x="1045.10" y="92.30" width="5.58" height="5.57" fill="#9c0000"/>
<rect x="1050.68" y="92.30" width="5.58" height="5.57" fill="#550000"/>
<rect x="1056.26" y="92.30" width="5.58" height="5.57" fill="#550000"/>
<rect x="1061.84" y="92.30" width="5.58" height="5.57" fill="#550000"/>
<rect x="1067.42" y="92.30" width="5.58" height="5.57" fill="#220000"/>
<rect x="1073.00" y="92.30" width="5.58" height="5.57" fill="#220000"/>
<rect x="1078.58" y="92.30" width="5.58" height="5.57" fill="#550000"/>
<rect x="1084.16" y="92.30" width="5.58" height="5.57" fill="#220000"/>
<rect x="1089.74" y="92.30" width="5.58" height="5.57" fill="#220000"/>
<rect x="1095.32" y="92.30" width="5.58" height="5.57" fill="#220000"/>
<rect x="1100.90" y="92.30" width="5.58" height="5.57" fill="#220000"/>
<rect x="1112.06" y="92.30" width="5.58" height="5.57" fill="#220000"/>
<rect x="1117.64" y="92.30" width="5.58" height="5.57" fill="#220000"/>
<rect x="1123.22" y="92.30" width="5.58" height="5.57" fill="#220000"/>
<rect x="1128.80" y="92.30" width="5.58" height="5.57" fill="#220000"/>
<rect x="1134.38" y="92.30" width="5.58" height="5.57" fill="#220000"/>
<rect x="1139.96" y="92.30" width="5.58" height="5.57" fill="#220000"/>
<rect x="1145.54" y="92.30" width="5.58" height="5.57" fill="#220000"/>
<rect x="1156.70" y="92.30" width="5.58" height="5.57" fill="#220000"/>
<rect x="1162.28" y="92.30" width="5.58" height="5.57" fill="#220000"/>
<rect x="1167.86" y="92.30" width="5.58" height="5.57" fill="#220000"/>
<rect x="1173.44" y="92.30" width="5.58" height="5.57" fill="#220000"/>
<rect x="1179.02" y="92.30" width="5.58" height="5.57" fill="#220000"/>
<rect x="1184.60" y="92.30" width="5.58" height="5.57" fill="#220000"/>
<rect x="1190.18" y="92.30" width="5.58" height="5.57" fill="#220000"/>
<rect x="1206.92" y="92.30" width="5.58" height="5.57" fill="#220000"/>
<rect x="1212.50" y="92.30" width="5.58" height="5.57" fill="#550000"/>
<rect x="1218.08" y="92.30" width="5.58" height="5.57" fill="#220000"/>
<rect x="1223.66" y="92.30" width="5.58" height="5.57" fill="#220000"/>
<rect x="1229.24" y="92.30" width="5.58" height="5.57" fill="#220000"/>
<rect x="1234.82" y="92.30" width="5.58" height="5.57" fill="#220000"/>
<rect x="1240.40" y="92.30" width="5.58" height="5.57" fill="#220000"/>
<rect x="1245.98" y="92.30" width="5.58" height="5.57" fill="#220000"/>
<rect x="1251.56" y="92.30" width="5.58" height="5.57" fill="#220000"/>
<rect x="1257.14" y="92.30" width="5.58" height="5.57" fill="#220000"/>
<rect x="1022.78" y="97.87" width="5.58" height="5.57" fill="#220000"/>
<rect x="1028.36" y="97.87" width="5.58" height="5.57" fill="#220000"/>
<rect x="1033.94" y="97.87" width="5.58" height="5.57" fill="#9c0000"/>
<rect x="1039.52" y="97.87" width="5.58" height="5.57" fill="#9c0000"/>
<rect x="1045.10" y="97.87" width="5.58" height="5.57" fill="#9c0000"/>
<rect x="1050.68" y="97.87" width="5.58" height="5.57" fill="#ff3a00"/>
<rect x="1056.26" y="97.87" width="5.58" height="5.57" fill="#ff7e00"/>
<rect x="1061.84" y="97.87" width="5.58" height="5.57" fill="#ff7e00"/>
<rect x="1067.42" y="97.87" width="5.58" height="5.57" fill="#ff3a00"/>
<rect x="1073.00" y="97.87" width="5.58" height="5.57" fill="#ff3a00"/>
<rect x="1078.58" y="97.87" width="5.58" height="5.57" fill="#ff7e00"/>
<rect x="1084.16" y="97.87" width="5.58" height="5.57" fill="#ff3a00"/>
<rect x="1089.74" y="97.87" width="5.58" height="5.57" fill="#ff1100"/>
<rect x="1095.32" y="97.87" width="5.58" height="5.57" fill="#550000"/>
<rect x="1100.90" y="97.87" width="5.58" height="5.57" fill="#550000"/>
<rect x="1106.48" y="97.87" width="5.58" height="5.57" fill="#220000"/>
<rect x="1112.06" y="97.87" width="5.58" height="5.57" fill="#550000"/>
<rect x="1117.64" y="97.87" width="5.58" height="5.57" fill="#550000"/>
<rect x="1123.22" y="97.87" width="5.58" height="5.57" fill="#9c0000"/>
<rect x="1128.80" y="97.87" width="5.58" height="5.57" fill="#ffff1f"/>
<rect x="1134.38" y="97.87" width="5.58" height="5.57" fill="#ff7e00"/>
<rect x="1139.96" y="97.87" width="5.58" height="5.57" fill="#ff3a00"/>
<rect x="1145.54" y="97.87" width="5.58" height="5.57" fill="#ff1100"/>
<rect x="1151.12" y="97.87" width="5.58" height="5.57" fill="#550000"/>
<rect x="1156.70" y="97.87" width="5.58" height="5.57" fill="#550000"/>
<rect x="1162.28" y="97.87" width="5.58" height="5.57" fill="#550000"/>
<rect x="1167.86" y="97.87" width="5.58" height="5.57" fill="#550000"/>
<rect x="1173.44" y="97.87" width="5.58" height="5.57" fill="#550000"/>
<rect x="1179.02" y="97.87" width="5.58" height="5.57" fill="#550000"/>
<rect x="1184.60" y="97.87" width="5.58" height="5.57" fill="#9c0000"/>
<rect x="1190.18" y="97.87" width="5.58" height="5.57" fill="#550000"/>
<rect x="1195.76" y="97.87" width="5.58" height="5.57" fill="#220000"/>
<rect x="1206.92" y="97.87" width="5.58" height="5.57" fill="#550000"/>
<rect x="1212.50" y="97.87" width="5.58" height="5.57" fill="#550000"/>
<rect x="1223.66" y="97.87" width="5.58" height="5.57" fill="#220000"/>
<rect x="1234.82" y="97.87" width="5.58" height="5.57" fill="#220000"/>
<rect x="1245.98" y="97.87" width="5.58" height="5.57" fill="#220000"/>
<rect x="1273.88" y="97.87" width="5.58" height="5.57" fill="#220000"/>
<rect x="1033.94" y="103.44" width="5.58" height="5.57" fill="#220000"/>
<rect x="1039.52" y="103.44" width="5.58" height="5.57" fill="#220000"/>
<rect x="1045.10" y="103.44" width="5.58" height="5.57" fill="#220000"/>
<rect x="1050.68" y="103.44" width="5.58" height="5.57" fill="#550000"/>
<rect x="1056.26" y="103.44" width="5.58" height="5.57" fill="#9c0000"/>
<rect x="1061.84" y="103.44" width="5.58" height="5.57" fill="#ff7e00"/>
<rect x="1067.42" y="103.44" width="5.58" height="5.57" fill="#ffff1f"/>
<rect x="1073.00" y="103.44" width="5.58" height="5.57" fill="#ffff1f"/>
<rect x="1078.58" y="103.44" width="5.58" height="5.57" fill="#ffffb8"/>
<rect x="1084.16" y="103.44" width="5.58" height="5.57" fill="#ffffb8"/>
<rect x="1089.74" y="103.44" width="5.58" height="5.57" fill="#ffff1f"/>
<rect x="1095.32" y="103.44" width="5.58" height="5.57" fill="#ff1100"/>
<rect x="1100.90" y="103.44" width="5.58" height="5.57" fill="#ff1100"/>
<rect x="1106.48" y="103.44" width="5.58" height="5.57" fill="#ff1100"/>
<rect x="1112.06" y="103.44" width="5.58" height="5.57" fill="#ff1100"/>
<rect x="1117.64" y="103.44" width="5.58" height="5.57" fill="#ff1100"/>
<rect x="1123.22" y="103.44" width="5.58" height="5.57" fill="#ffff1f"/>
<rect x="1128.80" y="103.44" width="5.58" height="5.57" fill="#ffff1f"/>
<rect x="1134.38" y="103.44" width="5.58" height="5.57" fill="#ffff1f"/>
<rect x="1139.96" y="103.44" width="5.58" height="5.57" fill="#ffbb00"/>
<rect x="1145.54" y="103.44" width="5.58" height="5.57" fill="#ff7e00"/>
<rect x="1151.12" y="103.44" width="5.58" height="5.57" fill="#ff3a00"/>
<rect x="1156.70" y="103.44" width="5.58" height="5.57" fill="#550000"/>
<rect x="1162.28" y="103.44" width="5.58" height="5.57" fill="#550000"/>
<rect x="1167.86" y="103.44" width="5.58" height="5.57" fill="#550000"/>
<rect x="1173.44" y="103.44" width="5.58" height="5.57" fill="#550000"/>
<rect x="1179.02" y="103.44" width="5.58" height="5.57" fill="#550000"/>
<rect x="1184.60" y="103.44" width="5.58" height="5.57" fill="#9c0000"/>
<rect x="1190.18" y="103.44" width="5.58" height="5.57" fill="#550000"/>
<rect x="1195.76" y="103.44" width="5.58" height="5.57" fill="#550000"/>
<rect x="1201.34" y="103.44" width="5.58" height="5.57" fill="#550000"/>
<rect x="1206.92" y="103.44" width="5.58" height="5.57" fill="#550000"/>
<rect x="1212.50" y="103.44" width="5.58" height="5.57" fill="#550000"/>
<rect x="1223.66" y="103.44" width="5.58" height="5.57" fill="#220000"/>
<rect x="1234.82" y="103.44" width="5.58" height="5.57" fill="#550000"/>
<rect x="1245.98" y="103.44" width="5.58" height="5.57" fill="#220000"/>
<rect x="1050.68" y="109.01" width="5.58" height="5.57" fill="#550000"/>
<rect x="1056.26" y="109.01" width="5.58" height="5.57" fill="#550000"/>
<rect x="1061.84" y="109.01" width="5.58" height="5.57" fill="#550000"/>
<rect x="1067.42" y="109.01" width="5.58" height="5.57" fill="#9c0000"/>
<rect x="1073.00" y="109.01" width="5.58" height="5.57" fill="#ff1100"/>
<rect x="1078.58" y="109.01" width="5.58" height="5.57" fill="#ff7e00"/>
<rect x="1084.16" y="109.01" width="5.58" height="5.57" fill="#ff7e00"/>
<rect x="1089.74" y="109.01" width="5.58" height="5.57" fill="#ff7e00"/>
<rect x="1095.32" y="109.01" width="5.58" height="5.57" fill="#ffbb00"/>
<rect x="1100.90" y="109.01" width="5.58" height="5.57" fill="#ffbb00"/>
<rect x="1106.48" y="109.01" width="5.58" height="5.57" fill="#ffff1f"/>
<rect x="1112.06" y="109.01" width="5.58" height="5.57" fill="#ffffb8"/>
<rect x="1117.64" y="109.01" width="5.58" height="5.57" fill="#ffffb8"/>
<rect x="1123.22" y="109.01" width="5.58" height="5.57" fill="#ffffb8"/>
<rect x="1128.80" y="109.01" width="5.58" height="5.57" fill="#ffffb8"/>
<rect x="1134.38" y="109.01" width="5.58" height="5.57" fill="#ffffb8"/>
<rect x="1139.96" y="109.01" width="5.58" height="5.57" fill="#ffff1f"/>
<rect x="1145.54" y="109.01" width="5.58" height="5.57" fill="#ffbb00"/>
<rect x="1151.12" y="109.01" width="5.58" height="5.57" fill="#ffbb00"/>
<rect x="1156.70" y="109.01" width="5.58" height="5.57" fill="#9c0000"/>
<rect x="1162.28" y="109.01" width="5.58" height="5.57" fill="#9c0000"/>
<rect x="1167.86" y="109.01" width="5.58" height="5.57" fill="#9c0000"/>
<rect x="1173.44" y="109.01" width="5.58" height="5.57" fill="#9c0000"/>
<rect x="1179.02" y="109.01" width="5.58" height="5.57" fill="#550000"/>
<rect x="1184.60" y="109.01" width="5.58" height="5.57" fill="#550000"/>
<rect x="1190.18" y="109.01" width="5.58" height="5.57" fill="#550000"/>
<rect x="1195.76" y="109.01" width="5.58" height="5.57" fill="#550000"/>
<rect x="1201.34" y="109.01" width="5.58" height="5.57" fill="#550000"/>
<rect x="1206.92" y="109.01" width="5.58" height="5.57" fill="#550000"/>
<rect x="1212.50" y="109.01" width="5.58" height="5.57" fill="#550000"/>
<rect x="1218.08" y="109.01" width="5.58" height="5.57" fill="#550000"/>
<rect x="1223.66" y="109.01" width="5.58" height="5.57" fill="#550000"/>
<rect x="1229.24" y="109.01" width="5.58" height="5.57" fill="#550000"/>
<rect x="1234.82" y="109.01" width="5.58" height="5.57" fill="#550000"/>
<rect x="1245.98" y="109.01" width="5.58" height="5.57" fill="#220000"/>
<rect x="1067.42" y="114.58" width="5.58" height="5.57" fill="#220000"/>
<rect x="1073.00" y="114.58" width="5.58" height="5.57" fill="#220000"/>
<rect x="1078.58" y="114.58" width="5.58" height="5.57" fill="#550000"/>
<rect x="1084.16" y="114.58" width="5.58" height="5.57" fill="#550000"/>
<rect x="1089.74" y="114.58" width="5.58" height="5.57" fill="#ff1100"/>
<rect x="1095.32" y="114.58" width="5.58" height="5.57" fill="#ff1100"/>
<rect x="1100.90" y="114.58" width="5.58" height="5.57" fill="#ff1100"/>
<rect x="1106.48" y="114.58" width="5.58" height="5.57" fill="#ff3a00"/>
<rect x="1112.06" y="114.58" width="5.58" height="5.57" fill="#ffff1f"/>
<rect x="1117.64" y="114.58" width="5.58" height="5.57" fill="#ffff1f"/>
<rect x="1123.22" y="114.58" width="5.58" height="5.57" fill="#ffff1f"/>
<rect x="1128.80" y="114.58" width="5.58" height="5.57" fill="#ffffb8"/>
<rect x="1134.38" y="114.58" width="5.58" height="5.57" fill="#ffffb8"/>
<rect x="1139.96" y="114.58" width="5.58" height="5.57" fill="#ffffb8"/>
<rect x="1145.54" y="114.58" width="5.58" height="5.57" fill="#ffff1f"/>
<rect x="1151.12" y="114.58" width="5.58" height="5.57" fill="#ffbb00"/>
<rect x="1156.70" y="114.58" width="5.58" height="5.57" fill="#ff1100"/>
<rect x="1162.28" y="114.58" width="5.58" height="5.57" fill="#ff1100"/>
<rect x="1167.86" y="114.58" width="5.58" height="5.57" fill="#ff1100"/>
<rect x="1173.44" y="114.58" width="5.58" height="5.57" fill="#ff1100"/>
<rect x="1179.02" y="114.58" width="5.58" height="5.57" fill="#550000"/>
<rect x="1184.60" y="114.58" width="5.58" height="5.57" fill="#550000"/>
<rect x="1190.18" y="114.58" width="5.58" height="5.57" fill="#550000"/>
<rect x="1195.76" y="114.58" width="5.58" height="5.57" fill="#550000"/>
<rect x="1201.34" y="114.58" width="5.58" height="5.57" fill="#550000"/>
<rect x="1206.92" y="114.58" width="5.58" height="5.57" fill="#550000"/>
<rect x="1212.50" y="114.58" width="5.58" height="5.57" fill="#220000"/>
<rect x="1218.08" y="114.58" width="5.58" height="5.57" fill="#550000"/>
<rect x="1223.66" y="114.58" width="5.58" height="5.57" fill="#550000"/>
<rect x="1229.24" y="114.58" width="5.58" height="5.57" fill="#550000"/>
<rect x="1234.82" y="114.58" width="5.58" height="5.57" fill="#220000"/>
<rect x="1078.58" y="120.15" width="5.58" height="5.57" fill="#220000"/>
<rect x="1084.16" y="120.15" width="5.58" height="5.57" fill="#220000"/>
<rect x="1089.74" y="120.15" width="5.58" height="5.57" fill="#550000"/>
<rect x="1095.32" y="120.15" width="5.58" height="5.57" fill="#550000"/>
<rect x="1100.90" y="120.15" width="5.58" height="5.57" fill="#550000"/>
<rect x="1106.48" y="120.15" width="5.58" height="5.57" fill="#9c0000"/>
<rect x="1112.06" y="120.15" width="5.58" height="5.57" fill="#ff1100"/>
<rect x="1117.64" y="120.15" width="5.58" height="5.57" fill="#ff1100"/>
<rect x="1123.22" y="120.15" width="5.58" height="5.57" fill="#ff1100"/>
<rect x="1128.80" y="120.15" width="5.58" height="5.57" fill="#ff7e00"/>
<rect x="1134.38" y="120.15" width="5.58" height="5.57" fill="#ff7e00"/>
<rect x="1139.96" y="120.15" width="5.58" height="5.57" fill="#ff3a00"/>
<rect x="1145.54" y="120.15" width="5.58" height="5.57" fill="#ff3a00"/>
<rect x="1151.12" y="120.15" width="5.58" height="5.57" fill="#ff7e00"/>
<rect x="1156.70" y="120.15" width="5.58" height="5.57" fill="#ff1100"/>
<rect x="1162.28" y="120.15" width="5.58" height="5.57" fill="#ff1100"/>
<rect x="1167.86" y="120.15" width="5.58" height="5.57" fill="#ff1100"/>
<rect x="1173.44" y="120.15" width="5.58" height="5.57" fill="#9c0000"/>
<rect x="1179.02" y="120.15" width="5.58" height="5.57" fill="#550000"/>
<rect x="1184.60" y="120.15" width="5.58" height="5.57" fill="#550000"/>
<rect x="1190.18" y="120.15" width="5.58" height="5.57" fill="#550000"/>
<rect x="1195.76" y="120.15" width="5.58" height="5.57" fill="#550000"/>
<rect x="1201.34" y="120.15" width="5.58" height="5.57" fill="#550000"/>
<rect x="1206.92" y="120.15" width="5.58" height="5.57" fill="#550000"/>
<rect x="1212.50" y="120.15" width="5.58" height="5.57" fill="#550000"/>
<rect x="1218.08" y="120.15" width="5.58" height="5.57" fill="#550000"/>
<rect x="1229.24" y="120.15" width="5.58" height="5.57" fill="#220000"/>
<rect x="1245.98" y="120.15" width="5.58" height="5.57" fill="#220000"/>
<rect x="1084.16" y="125.72" width="5.58" height="5.57" fill="#220000"/>
<rect x="1089.74" y="125.72" width="5.58" height="5.57" fill="#220000"/>
<rect x="1095.32" y="125.72" width="5.58" height="5.57" fill="#220000"/>
<rect x="1100.90" y="125.72" width="5.58" height="5.57" fill="#550000"/>
<rect x="1106.48" y="125.72" width="5.58" height="5.57" fill="#550000"/>
<rect x="1112.06" y="125.72" width="5.58" height="5.57" fill="#550000"/>
<rect x="1117.64" y="125.72" width="5.58" height="5.57" fill="#9c0000"/>
<rect x="1123.22" y="125.72" width="5.58" height="5.57" fill="#9c0000"/>
<rect x="1128.80" y="125.72" width="5.58" height="5.57" fill="#ff1100"/>
<rect x="1134.38" y="125.72" width="5.58" height="5.57" fill="#ff1100"/>
<rect x="1139.96" y="125.72" width="5.58" height="5.57" fill="#ff1100"/>
<rect x="1145.54" y="125.72" width="5.58" height="5.57" fill="#ff1100"/>
<rect x="1151.12" y="125.72" width="5.58" height="5.57" fill="#9c0000"/>
<rect x="1156.70" y="125.72" width="5.58" height="5.57" fill="#ff1100"/>
<rect x="1162.28" y="125.72" width="5.58" height="5.57" fill="#9c0000"/>
<rect x="1167.86" y="125.72" width="5.58" height="5.57" fill="#9c0000"/>
<rect x="1173.44" y="125.72" width="5.58" height="5.57" fill="#ff1100"/>
<rect x="1179.02" y="125.72" width="5.58" height="5.57" fill="#550000"/>
<rect x="1184.60" y="125.72" width="5.58" height="5.57" fill="#550000"/>
<rect x="1190.18" y="125.72" width="5.58" height="5.57" fill="#9c0000"/>
<rect x="1195.76" y="125.72" width="5.58" height="5.57" fill="#550000"/>
<rect x="1201.34" y="125.72" width="5.58" height="5.57" fill="#550000"/>
<rect x="1206.92" y="125.72" width="5.58" height="5.57" fill="#550000"/>
<rect x="1212.50" y="125.72" width="5.58" height="5.57" fill="#550000"/>
<rect x="1218.08" y="125.72" width="5.58" height="5.57" fill="#550000"/>
<rect x="1229.24" y="125.72" width="5.58" height="5.57" fill="#220000"/>
<rect x="1089.74" y="131.29" width="5.58" height="5.57" fill="#220000"/>
<rect x="1100.90" y="131.29" width="5.58" height="5.57" fill="#220000"/>
<rect x="1106.48" y="131.29" width="5.58" height="5.57" fill="#220000"/>
<rect x="1112.06" y="131.29" width="5.58" height="5.57" fill="#550000"/>
<rect x="1117.64" y="131.29" width="5.58" height="5.57" fill="#550000"/>
<rect x="1123.22" y="131.29" width="5.58" height="5.57" fill="#550000"/>
<rect x="1128.80" y="131.29" width="5.58" height="5.57" fill="#550000"/>
<rect x="1134.38" y="131.29" width="5.58" height="5.57" fill="#550000"/>
<rect x="1139.96" y="131.29" width="5.58" height="5.57" fill="#550000"/>
<rect x="1145.54" y="131.29" width="5.58" height="5.57" fill="#550000"/>
<rect x="1151.12" y="131.29" width="5.58" height="5.57" fill="#550000"/>
<rect x="1156.70" y="131.29" width="5.58" height="5.57" fill="#550000"/>
<rect x="1162.28" y="131.29" width="5.58" height="5.57" fill="#550000"/>
<rect x="1167.86" y="131.29" width="5.58" height="5.57" fill="#550000"/>
<rect x="1173.44" y="131.29" width="5.58" height="5.57" fill="#550000"/>
<rect x="1179.02" y="131.29" width="5.58" height="5.57" fill="#550000"/>
<rect x="1184.60" y="131.29" width="5.58" height="5.57" fill="#550000"/>
<rect x="1190.18" y="131.29" width="5.58" height="5.57" fill="#ff1100"/>
<rect x="1195.76" y="131.29" width="5.58" height="5.57" fill="#ff1100"/>
<rect x="1201.34" y="131.29" width="5.58" height="5.57" fill="#9c0000"/>
<rect x="1206.92" y="131.29" width="5.58" height="5.57" fill="#550000"/>
<rect x="1212.50" y="131.29" width="5.58" height="5.57" fill="#550000"/>
<rect x="1218.08" y="131.29" width="5.58" height="5.57" fill="#550000"/>
<rect x="1223.66" y="131.29" width="5.58" height="5.57" fill="#550000"/>
<rect x="1229.24" y="131.29" width="5.58" height="5.57" fill="#550000"/>
<rect x="1078.58" y="136.86" width="5.58" height="5.57" fill="#220000"/>
<rect x="1100.90" y="136.86" width="5.58" height="5.57" fill="#220000"/>
<rect x="1106.48" y="136.86" width="5.58" height="5.57" fill="#220000"/>
<rect x="1112.06" y="136.86" width="5.58" height="5.57" fill="#220000"/>
<rect x="1117.64" y="136.86" width="5.58" height="5.57" fill="#220000"/>
<rect x="1123.22" y="136.86" width="5.58" height="5.57" fill="#220000"/>
<rect x="1128.80" y="136.86" width="5.58" height="5.57" fill="#220000"/>
<rect x="1134.38" y="136.86" width="5.58" height="5.57" fill="#220000"/>
<rect x="1139.96" y="136.86" width="5.58" height="5.57" fill="#220000"/>
<rect x="1145.54" y="136.86" width="5.58" height="5.57" fill="#550000"/>
<rect x="1151.12" y="136.86" width="5.58" height="5.57" fill="#550000"/>
<rect x="1156.70" y="136.86" width="5.58" height="5.57" fill="#9c0000"/>
<rect x="1162.28" y="136.86" width="5.58" height="5.57" fill="#550000"/>
<rect x="1167.86" y="136.86" width="5.58" height="5.57" fill="#550000"/>
<rect x="1173.44" y="136.86" width="5.58" height="5.57" fill="#550000"/>
<rect x="1179.02" y="136.86" width="5.58" height="5.57" fill="#550000"/>
<rect x="1184.60" y="136.86" width="5.58" height="5.57" fill="#550000"/>
<rect x="1190.18" y="136.86" width="5.58" height="5.57" fill="#550000"/>
<rect x="1195.76" y="136.86" width="5.58" height="5.57" fill="#9c0000"/>
<rect x="1201.34" y="136.86" width="5.58" height="5.57" fill="#220000"/>
<rect x="1206.92" y="136.86" width="5.58" height="5.57" fill="#220000"/>
<rect x="1212.50" y="136.86" width="5.58" height="5.57" fill="#220000"/>
<rect x="1218.08" y="136.86" width="5.58" height="5.57" fill="#220000"/>
<rect x="1223.66" y="136.86" width="5.58" height="5.57" fill="#220000"/>
<rect x="1229.24" y="136.86" width="5.58" height="5.57" fill="#220000"/>
<rect x="1240.40" y="136.86" width="5.58" height="5.57" fill="#220000"/>
<rect x="1112.06" y="142.43" width="5.58" height="5.57" fill="#220000"/>
<rect x="1117.64" y="142.43" width="5.58" height="5.57" fill="#220000"/>
<rect x="1128.80" y="142.43" width="5.58" height="5.57" fill="#220000"/>
<rect x="1134.38" y="142.43" width="5.58" height="5.57" fill="#220000"/>
<rect x="1145.54" y="142.43" width="5.58" height="5.57" fill="#220000"/>
<rect x="1151.12" y="142.43" width="5.58" height="5.57" fill="#220000"/>
<rect x="1156.70" y="142.43" width="5.58" height="5.57" fill="#220000"/>
<rect x="1162.28" y="142.43" width="5.58" height="5.57" fill="#220000"/>
<rect x="1167.86" y="142.43" width="5.58" height="5.57" fill="#220000"/>
<rect x="1173.44" y="142.43" width="5.58" height="5.57" fill="#550000"/>
<rect x="1179.02" y="142.43" width="5.58" height="5.57" fill="#550000"/>
<rect x="1184.60" y="142.43" width="5.58" height="5.57" fill="#550000"/>
<rect x="1190.18" y="142.43" width="5.58" height="5.57" fill="#550000"/>
<rect x="1195.76" y="142.43" width="5.58" height="5.57" fill="#550000"/>
<rect x="1201.34" y="142.43" width="5.58" height="5.57" fill="#550000"/>
<rect x="1206.92" y="142.43" width="5.58" height="5.57" fill="#9c0000"/>
<rect x="1212.50" y="142.43" width="5.58" height="5.57" fill="#220000"/>
<rect x="1218.08" y="142.43" width="5.58" height="5.57" fill="#220000"/>
<rect x="1223.66" y="142.43" width="5.58" height="5.57" fill="#220000"/>
<rect x="1229.24" y="142.43" width="5.58" height="5.57" fill="#220000"/>
<rect x="1234.82" y="142.43" width="5.58" height="5.57" fill="#220000"/>
<rect x="1251.56" y="142.43" width="5.58" height="5.57" fill="#220000"/>
<rect x="1095.32" y="148.00" width="5.58" height="5.57" fill="#220000"/>
<rect x="1106.48" y="148.00" width="5.58" height="5.57" fill="#220000"/>
<rect x="1145.54" y="148.00" width="5.58" height="5.57" fill="#220000"/>
<rect x="1151.12" y="148.00" width="5.58" height="5.57" fill="#220000"/>
<rect x="1167.86" y="148.00" width="5.58" height="5.57" fill="#220000"/>
<rect x="1173.44" y="148.00" width="5.58" height="5.57" fill="#220000"/>
<rect x="1184.60" y="148.00" width="5.58" height="5.57" fill="#220000"/>
<rect x="1190.18" y="148.00" width="5.58" height="5.57" fill="#220000"/>
<rect x="1195.76" y="148.00" width="5.58" height="5.57" fill="#220000"/>
<rect x="1201.34" y="148.00" width="5.58" height="5.57" fill="#220000"/>
<rect x="1206.92" y="148.00" width="5.58" height="5.57" fill="#220000"/>
<rect x="1212.50" y="148.00" width="5.58" height="5.57" fill="#9c0000"/>
<rect x="1218.08" y="148.00" width="5.58" height="5.57" fill="#220000"/>
<rect x="1223.66" y="148.00" width="5.58" height="5.57" fill="#220000"/>
<rect x="1229.24" y="148.00" width="5.58" height="5.57" fill="#220000"/>
<rect x="1234.82" y="148.00" width="5.58" height="5.57" fill="#220000"/>
<rect x="1240.40" y="148.00" width="5.58" height="5.57" fill="#220000"/>
<rect x="1257.14" y="148.00" width="5.58" height="5.57" fill="#220000"/>
<rect x="1139.96" y="153.57" width="5.58" height="5.57" fill="#220000"/>
<rect x="1179.02" y="153.57" width="5.58" height="5.57" fill="#220000"/>
<rect x="1184.60" y="153.57" width="5.58" height="5.57" fill="#220000"/>
<rect x="1190.18" y="153.57" width="5.58" height="5.57" fill="#220000"/>
<rect x="1195.76" y="153.57" width="5.58" height="5.57" fill="#220000"/>
<rect x="1201.34" y="153.57" width="5.58" height="5.57" fill="#220000"/>
<rect x="1206.92" y="153.57" width="5.58" height="5.57" fill="#220000"/>
<rect x="1212.50" y="153.57" width="5.58" height="5.57" fill="#220000"/>
<rect x="1218.08" y="153.57" width="5.58" height="5.57" fill="#9c0000"/>
<rect x="1223.66" y="153.57" width="5.58" height="5.57" fill="#220000"/>
<rect x="1229.24" y="153.57" width="5.58" height="5.57" fill="#220000"/>
<rect x="1234.82" y="153.57" width="5.58" height="5.57" fill="#220000"/>
<rect x="1240.40" y="153.57" width="5.58" height="5.57" fill="#220000"/>
<rect x="1245.98" y="153.57" width="5.58" height="5.57" fill="#220000"/>
<rect x="1251.56" y="153.57" width="5.58" height="5.57" fill="#220000"/>
<rect x="1179.02" y="159.14" width="5.58" height="5.57" fill="#220000"/>
<rect x="1195.76" y="159.14" width="5.58" height="5.57" fill="#220000"/>
<rect x="1201.34" y="159.14" width="5.58" height="5.57" fill="#220000"/>
<rect x="1206.92" y="159.14" width="5.58" height="5.57" fill="#220000"/>
<rect x="1212.50" y="159.14" width="5.58" height="5.57" fill="#220000"/>
<rect x="1218.08" y="159.14" width="5.58" height="5.57" fill="#220000"/>
<rect x="1223.66" y="159.14" width="5.58" height="5.57" fill="#220000"/>
<rect x="1229.24" y="159.14" width="5.58" height="5.57" fill="#9c0000"/>
<rect x="1234.82" y="159.14" width="5.58" height="5.57" fill="#220000"/>
<rect x="1240.40" y="159.14" width="5.58" height="5.57" fill="#9c0000"/>
<rect x="1245.98" y="159.14" width="5.58" height="5.57" fill="#220000"/>
<rect x="1251.56" y="159.14" width="5.58" height="5.57" fill="#220000"/>
<rect x="1195.76" y="164.71" width="5.58" height="5.57" fill="#220000"/>
<rect x="1201.34" y="164.71" width="5.58" height="5.57" fill="#220000"/>
<rect x="1206.92" y="164.71" width="5.58" height="5.57" fill="#220000"/>
<rect x="1212.50" y="164.71" width="5.58" height="5.57" fill="#220000"/>
<rect x="1223.66" y="164.71" width="5.58" height="5.57" fill="#220000"/>
<rect x="1229.24" y="164.71" width="5.58" height="5.57" fill="#220000"/>
<rect x="1234.82" y="164.71" width="5.58" height="5.57" fill="#220000"/>
<rect x="1240.40" y="164.71" width="5.58" height="5.57" fill="#220000"/>
<rect x="1245.98" y="164.71" width="5.58" height="5.57" fill="#220000"/>
<rect x="1257.14" y="164.71" width="5.58" height="5.57" fill="#220000"/>
<rect x="1262.72" y="164.71" width="5.58" height="5.57" fill="#220000"/>
<rect x="1268.30" y="164.71" width="5.58" height="5.57" fill="#220000"/>
<rect x="1106.48" y="170.28" width="5.58" height="5.57" fill="#220000"/>
<rect x="1179.02" y="170.28" width="5.58" height="5.57" fill="#220000"/>
<rect x="1184.60" y="170.28" width="5.58" height="5.57" fill="#220000"/>
<rect x="1190.18" y="170.28" width="5.58" height="5.57" fill="#220000"/>
<rect x="1195.76" y="170.28" width="5.58" height="5.57" fill="#220000"/>
<rect x="1201.34" y="170.28" width="5.58" height="5.57" fill="#220000"/>
<rect x="1206.92" y="170.28" width="5.58" height="5.57" fill="#220000"/>
<rect x="1212.50" y="170.28" width="5.58" height="5.57" fill="#220000"/>
<rect x="1218.08" y="170.28" width="5.58" height="5.57" fill="#220000"/>
<rect x="1223.66" y="170.28" width="5.58" height="5.57" fill="#220000"/>
<rect x="1229.24" y="170.28" width="5.58" height="5.57" fill="#220000"/>
<rect x="1234.82" y="170.28" width="5.58" height="5.57" fill="#220000"/>
<rect x="1240.40" y="170.28" width="5.58" height="5.57" fill="#220000"/>
<rect x="1245.98" y="170.28" width="5.58" height="5.57" fill="#220000"/>
<rect x="1251.56" y="170.28" width="5.58" height="5.57" fill="#220000"/>
<rect x="1257.14" y="170.28" width="5.58" height="5.57" fill="#220000"/>
<rect x="1262.72" y="170.28" width="5.58" height="5.57" fill="#220000"/>
<rect x="1273.88" y="170.28" width="5.58" height="5.57" fill="#220000"/>
<rect x="1201.34" y="175.85" width="5.58" height="5.57" fill="#220000"/>
<rect x="1218.08" y="175.85" width="5.58" height="5.57" fill="#220000"/>
<rect x="1229.24" y="175.85" width="5.58" height="5.57" fill="#220000"/>
<rect x="1234.82" y="175.85" width="5.58" height="5.57" fill="#220000"/>
<rect x="1240.40" y="175.85" width="5.58" height="5.57" fill="#220000"/>
<rect x="1245.98" y="175.85" width="5.58" height="5.57" fill="#220000"/>
<rect x="1251.56" y="175.85" width="5.58" height="5.57" fill="#220000"/>
<rect x="1257.14" y="175.85" width="5.58" height="5.57" fill="#220000"/>
<rect x="1262.72" y="175.85" width="5.58" height="5.57" fill="#220000"/>
<rect x="1218.08" y="181.42" width="5.58" height="5.57" fill="#220000"/>
<rect x="1251.56" y="181.42" width="5.58" height="5.57" fill="#220000"/>
<rect x="1257.14" y="181.42" width="5.58" height="5.57" fill="#220000"/>
<rect x="1262.72" y="181.42" width="5.58" height="5.57" fill="#220000"/>
<rect x="1229.24" y="186.99" width="5.58" height="5.57" fill="#220000"/>
<rect x="1268.30" y="186.99" width="5.58" height="5.57" fill="#220000"/>
<rect x="1290.62" y="186.99" width="5.58" height="5.57" fill="#220000"/>
<rect x="1257.14" y="192.56" width="5.58" height="5.57" fill="#220000"/>
<rect x="1262.72" y="192.56" width="5.58" height="5.57" fill="#220000"/>
<rect x="1290.62" y="198.13" width="5.58" height="5.57" fill="#220000"/>
</g>
<polyline points="840.40,357.70 840.41,355.26 840.44,352.81 840.50,350.37 840.57,347.92 840.67,345.48 840.78,343.04 840.92,340.60 841.08,338.16 841.26,335.72 841.46,333.28 841.69,330.85 841.93,328.41 842.20,325.98 842.49,323.56 842.79,321.13 843.12,318.71 843.47,316.29 843.85,313.87 844.24,311.46 844.65,309.05 845.09,306.64 845.54,304.24 846.02,301.84 846.52,299.45 847.03,297.06 847.57,294.68 848.13,292.30 848.71,289.92 849.31,287.55 849.94,285.19 850.58,282.83 851.24,280.48 851.92,278.13 852.63,275.79 853.35,273.45 854.10,271.12 854.86,268.80 855.65,266.49 856.45,264.18 857.28,261.88 858.12,259.58 858.99,257.30 859.87,255.02 860.78,252.75 861.70,250.48 862.65,248.23 863.61,245.98 864.59,243.75 865.60,241.52 866.62,239.30 867.66,237.09 868.72,234.88 869.80,232.69 870.90,230.51 872.02,228.33 873.16,226.17 874.31,224.02 875.49,221.87 876.68,219.74 877.89,217.62 879.12,215.50 880.37,213.40 881.64,211.31 882.92,209.23 884.23,207.17 885.55,205.11 886.89,203.07 888.24,201.03 889.62,199.01 891.01,197.00 892.42,195.01 893.85,193.02 895.29,191.05 896.75,189.09 898.23,187.15 899.73,185.21 901.24,183.29 902.77,181.39 904.31,179.49 905.87,177.61 907.45,175.75 909.04,173.89 910.65,172.06 912.28,170.23 913.92,168.42 915.58,166.63 917.25,164.85 918.94,163.08 920.65,161.33 922.37,159.59 924.10,157.87 925.85,156.16 927.61,154.47 929.39,152.80 931.19,151.14 932.99,149.50 934.82,147.87 936.65,146.26 938.50,144.66 940.37,143.08 942.24,141.52 944.13,139.97 946.04,138.44 947.96,136.93 949.89,135.43 951.83,133.95 953.79,132.49 955.76,131.04 957.74,129.61 959.73,128.20 961.74,126.81 963.76,125.43 965.79,124.07 967.83,122.73 969.89,121.41 971.95,120.11 974.03,118.82 976.12,117.55 978.22,116.30 980.32,115.07 982.45,113.86 984.58,112.66 986.72,111.48 988.87,110.33 991.03,109.19 993.20,108.07 995.38,106.97 997.57,105.89 999.77,104.83 1001.98,103.78 1004.20,102.76 1006.42,101.76 1008.66,100.77 1010.90,99.81 1013.16,98.86 1015.42,97.93 1017.68,97.03 1019.96,96.14 1022.24,95.28 1024.54,94.43 1026.83,93.60 1029.14,92.80 1031.45,92.01 1033.77,91.25 1036.10,90.50 1038.43,89.78 1040.77,89.07 1043.11,88.39 1045.46,87.72 1047.82,87.08 1050.18,86.46 1052.55,85.86 1054.92,85.27 1057.30,84.71 1059.68,84.17 1062.07,83.66 1064.46,83.16 1066.85,82.68 1069.25,82.22 1071.65,81.79 1074.06,81.38 1076.47,80.98 1078.89,80.61 1081.30,80.26 1083.72,79.93 1086.14,79.62 1088.57,79.33 1091.00,79.07 1093.43,78.82 1095.86,78.60 1098.29,78.40 1100.73,78.22 1103.17,78.06 1105.60,77.92 1108.04,77.80 1110.48,77.70 1112.92,77.63 1115.37,77.58 1117.81,77.54 1120.25,77.53 1122.69,77.54 1125.13,77.58 1127.58,77.63 1130.02,77.70 1132.46,77.80 1134.90,77.92 1137.33,78.06 1139.77,78.22 1142.21,78.40 1144.64,78.60 1147.07,78.82 1149.50,79.07 1151.93,79.33 1154.36,79.62 1156.78,79.93 1159.20,80.26 1161.61,80.61 1164.03,80.98 1166.44,81.38 1168.85,81.79 1171.25,82.22 1173.65,82.68 1176.04,83.16 1178.43,83.66 1180.82,84.17 1183.20,84.71 1185.58,85.27 1187.95,85.86 1190.32,86.46 1192.68,87.08 1195.04,87.72 1197.39,88.39 1199.73,89.07 1202.07,89.78 1204.40,90.50 1206.73,91.25 1209.05,92.01 1211.36,92.80 1213.67,93.60 1215.96,94.43 1218.26,95.28 1220.54,96.14 1222.82,97.03 1225.08,97.93 1227.34,98.86 1229.60,99.81 1231.84,100.77 1234.08,101.76 1236.30,102.76 1238.52,103.78 1240.73,104.83 1242.93,105.89 1245.12,106.97 1247.30,108.07 1249.47,109.19 1251.63,110.33 1253.78,111.48 1255.92,112.66 1258.05,113.86 1260.17,115.07 1262.28,116.30 1264.38,117.55 1266.47,118.82 1268.55,120.11 1270.61,121.41 1272.67,122.73 1274.71,124.07 1276.74,125.43 1278.76,126.81 1280.77,128.20 1282.76,129.61 1284.74,131.04 1286.71,132.49 1288.67,133.95 1290.61,135.43 1292.54,136.93 1294.46,138.44 1296.37,139.97 1298.26,141.52 1300.13,143.08 1302.00,144.66 1303.85,146.26 1305.68,147.87 1307.51,149.50 1309.31,151.14 1311.11,152.80 1312.89,154.47 1314.65,156.16 1316.40,157.87 1318.13,159.59 1319.85,161.33 1321.56,163.08 1323.25,164.85 1324.92,166.63 1326.58,168.42 1328.22,170.23 1329.85,172.06 1331.46,173.89 1333.05,175.75 1334.63,177.61 1336.19,179.49 1337.73,181.39 1339.26,183.29 1340.77,185.21 1342.27,187.15 1343.75,189.09 1345.21,191.05 1346.65,193.02 1348.08,195.01 1349.49,197.00 1350.88,199.01 1352.26,201.03 1353.61,203.07 1354.95,205.11 1356.27,207.17 1357.58,209.23 1358.86,211.31 1360.13,213.40 1361.38,215.50 1362.61,217.62 1363.82,219.74 1365.01,221.87 1366.19,224.02 1367.34,226.17 1368.48,228.33 1369.60,230.51 1370.70,232.69 1371.78,234.88 1372.84,237.09 1373.88,239.30 1374.90,241.52 1375.91,243.75 1376.89,245.98 1377.85,248.23 1378.80,250.48 1379.72,252.75 1380.63,255.02 1381.51,257.30 1382.38,259.58 1383.22,261.88 1384.05,264.18 1384.85,266.49 1385.64,268.80 1386.40,271.12 1387.15,273.45 1387.87,275.79 1388.58,278.13 1389.26,280.48 1389.92,282.83 1390.56,285.19 1391.19,287.55 1391.79,289.92 1392.37,292.30 1392.93,294.68 1393.47,297.06 1393.98,299.45 1394.48,301.84 1394.96,304.24 1395.41,306.64 1395.85,309.05 1396.26,311.46 1396.65,313.87 1397.03,316.29 1397.38,318.71 1397.71,321.13 1398.01,323.56 1398.30,325.98 1398.57,328.41 1398.81,330.85 1399.04,333.28 1399.24,335.72 1399.42,338.16 1399.58,340.60 1399.72,343.04 1399.83,345.48 1399.93,347.92 1400.00,350.37 1400.06,352.81 1400.09,355.26 1400.10,357.70" fill="none" stroke="#000" stroke-width="3.10"/>
<clipPath id="cb"><rect x="840.4" y="21.5" width="559.7" height="336.2"/></clipPath>
<g clip-path="url(#cb)"><line x1="840.40" y1="84.52" x2="1400.10" y2="136.29" stroke="#0000f2" stroke-width="3.2"/></g>
<circle cx="1009.9" cy="100.2" r="5.4" fill="none" stroke="#1fe01f" stroke-width="2.7"/>
<circle cx="1274.8" cy="124.7" r="5.4" fill="none" stroke="#1fe01f" stroke-width="2.7"/>
<text x="961.5" y="79.6" font-size="21" fill="#0000d2" text-anchor="start">2.5 ns</text>
<text x="1282.5" y="115.4" font-size="21" fill="#0000d2" text-anchor="start">0.89 ns</text>
<rect x="1409.60" y="355.30" width="27.00" height="5.90" fill="#ffffff"/>
<rect x="1409.60" y="350.00" width="27.00" height="5.90" fill="#150000"/>
<rect x="1409.60" y="344.70" width="27.00" height="5.90" fill="#200000"/>
<rect x="1409.60" y="339.41" width="27.00" height="5.90" fill="#2a0000"/>
<rect x="1409.60" y="334.11" width="27.00" height="5.90" fill="#350000"/>
<rect x="1409.60" y="328.81" width="27.00" height="5.90" fill="#400000"/>
<rect x="1409.60" y="323.51" width="27.00" height="5.90" fill="#4a0000"/>
<rect x="1409.60" y="318.21" width="27.00" height="5.90" fill="#550000"/>
<rect x="1409.60" y="312.91" width="27.00" height="5.90" fill="#600000"/>
<rect x="1409.60" y="307.62" width="27.00" height="5.90" fill="#6a0000"/>
<rect x="1409.60" y="302.32" width="27.00" height="5.90" fill="#750000"/>
<rect x="1409.60" y="297.02" width="27.00" height="5.90" fill="#800000"/>
<rect x="1409.60" y="291.72" width="27.00" height="5.90" fill="#8a0000"/>
<rect x="1409.60" y="286.42" width="27.00" height="5.90" fill="#950000"/>
<rect x="1409.60" y="281.12" width="27.00" height="5.90" fill="#9f0000"/>
<rect x="1409.60" y="275.83" width="27.00" height="5.90" fill="#aa0000"/>
<rect x="1409.60" y="270.53" width="27.00" height="5.90" fill="#b50000"/>
<rect x="1409.60" y="265.23" width="27.00" height="5.90" fill="#bf0000"/>
<rect x="1409.60" y="259.93" width="27.00" height="5.90" fill="#ca0000"/>
<rect x="1409.60" y="254.63" width="27.00" height="5.90" fill="#d40000"/>
<rect x="1409.60" y="249.33" width="27.00" height="5.90" fill="#df0000"/>
<rect x="1409.60" y="244.03" width="27.00" height="5.90" fill="#ea0000"/>
<rect x="1409.60" y="238.74" width="27.00" height="5.90" fill="#f40000"/>
<rect x="1409.60" y="233.44" width="27.00" height="5.90" fill="#ff0000"/>
<rect x="1409.60" y="228.14" width="27.00" height="5.90" fill="#ff0b00"/>
<rect x="1409.60" y="222.84" width="27.00" height="5.90" fill="#ff1500"/>
<rect x="1409.60" y="217.54" width="27.00" height="5.90" fill="#ff2000"/>
<rect x="1409.60" y="212.24" width="27.00" height="5.90" fill="#ff2a00"/>
<rect x="1409.60" y="206.95" width="27.00" height="5.90" fill="#ff3500"/>
<rect x="1409.60" y="201.65" width="27.00" height="5.90" fill="#ff4000"/>
<rect x="1409.60" y="196.35" width="27.00" height="5.90" fill="#ff4a00"/>
<rect x="1409.60" y="191.05" width="27.00" height="5.90" fill="#ff5500"/>
<rect x="1409.60" y="185.75" width="27.00" height="5.90" fill="#ff6000"/>
<rect x="1409.60" y="180.45" width="27.00" height="5.90" fill="#ff6a00"/>
<rect x="1409.60" y="175.15" width="27.00" height="5.90" fill="#ff7500"/>
<rect x="1409.60" y="169.86" width="27.00" height="5.90" fill="#ff8000"/>
<rect x="1409.60" y="164.56" width="27.00" height="5.90" fill="#ff8a00"/>
<rect x="1409.60" y="159.26" width="27.00" height="5.90" fill="#ff9500"/>
<rect x="1409.60" y="153.96" width="27.00" height="5.90" fill="#ff9f00"/>
<rect x="1409.60" y="148.66" width="27.00" height="5.90" fill="#ffaa00"/>
<rect x="1409.60" y="143.36" width="27.00" height="5.90" fill="#ffb500"/>
<rect x="1409.60" y="138.07" width="27.00" height="5.90" fill="#ffbf00"/>
<rect x="1409.60" y="132.77" width="27.00" height="5.90" fill="#ffca00"/>
<rect x="1409.60" y="127.47" width="27.00" height="5.90" fill="#ffd400"/>
<rect x="1409.60" y="122.17" width="27.00" height="5.90" fill="#ffdf00"/>
<rect x="1409.60" y="116.87" width="27.00" height="5.90" fill="#ffea00"/>
<rect x="1409.60" y="111.57" width="27.00" height="5.90" fill="#fff400"/>
<rect x="1409.60" y="106.28" width="27.00" height="5.90" fill="#ffff00"/>
<rect x="1409.60" y="100.98" width="27.00" height="5.90" fill="#ffff10"/>
<rect x="1409.60" y="95.68" width="27.00" height="5.90" fill="#ffff20"/>
<rect x="1409.60" y="90.38" width="27.00" height="5.90" fill="#ffff30"/>
<rect x="1409.60" y="85.08" width="27.00" height="5.90" fill="#ffff40"/>
<rect x="1409.60" y="79.78" width="27.00" height="5.90" fill="#ffff50"/>
<rect x="1409.60" y="74.48" width="27.00" height="5.90" fill="#ffff60"/>
<rect x="1409.60" y="69.19" width="27.00" height="5.90" fill="#ffff70"/>
<rect x="1409.60" y="63.89" width="27.00" height="5.90" fill="#ffff80"/>
<rect x="1409.60" y="58.59" width="27.00" height="5.90" fill="#ffff8f"/>
<rect x="1409.60" y="53.29" width="27.00" height="5.90" fill="#ffff9f"/>
<rect x="1409.60" y="47.99" width="27.00" height="5.90" fill="#ffffaf"/>
<rect x="1409.60" y="42.69" width="27.00" height="5.90" fill="#ffffbf"/>
<rect x="1409.60" y="37.40" width="27.00" height="5.90" fill="#ffffcf"/>
<rect x="1409.60" y="32.10" width="27.00" height="5.90" fill="#ffffdf"/>
<rect x="1409.60" y="26.80" width="27.00" height="5.90" fill="#ffffef"/>
<rect x="1409.60" y="21.50" width="27.00" height="5.90" fill="#ffffff"/>
<rect x="1409.6" y="21.5" width="27.0" height="339.1" fill="none" stroke="#777" stroke-width="1.2"/>
<text transform="translate(1445.5 371.0) scale(0.945 1)" font-size="23.2">0</text>
<line x1="1432.6" y1="304.1" x2="1436.6" y2="304.1" stroke="#555" stroke-width="1.2"/>
<text transform="translate(1445.5 314.5) scale(0.945 1)" font-size="23.2">20</text>
<line x1="1432.6" y1="247.6" x2="1436.6" y2="247.6" stroke="#555" stroke-width="1.2"/>
<text transform="translate(1445.5 258.0) scale(0.945 1)" font-size="23.2">40</text>
<line x1="1432.6" y1="191.1" x2="1436.6" y2="191.1" stroke="#555" stroke-width="1.2"/>
<text transform="translate(1445.5 201.5) scale(0.945 1)" font-size="23.2">60</text>
<line x1="1432.6" y1="134.5" x2="1436.6" y2="134.5" stroke="#555" stroke-width="1.2"/>
<text transform="translate(1445.5 144.9) scale(0.945 1)" font-size="23.2">80</text>
<line x1="1432.6" y1="78.0" x2="1436.6" y2="78.0" stroke="#555" stroke-width="1.2"/>
<text transform="translate(1445.5 88.4) scale(0.945 1)" font-size="23.2">100</text>
<text transform="translate(1445.5 30.7) scale(0.945 1)" font-size="23.2">120</text>
<text transform="translate(1496.0 191.4) rotate(-90)" text-anchor="middle" font-size="22.6" style="font-weight:normal" stroke="#000" stroke-width="0.6">Phasor Counts</text>
<line x1="199.5" y1="457.3" x2="199.5" y2="792.1" stroke="#ebebeb" stroke-width="1.6"/>
<line x1="311.3" y1="457.3" x2="311.3" y2="792.1" stroke="#ebebeb" stroke-width="1.6"/>
<line x1="423.0" y1="457.3" x2="423.0" y2="792.1" stroke="#ebebeb" stroke-width="1.6"/>
<line x1="534.8" y1="457.3" x2="534.8" y2="792.1" stroke="#ebebeb" stroke-width="1.6"/>
<line x1="87.7" y1="680.5" x2="646.6" y2="680.5" stroke="#ebebeb" stroke-width="1.6"/>
<line x1="87.7" y1="568.9" x2="646.6" y2="568.9" stroke="#ebebeb" stroke-width="1.6"/>
<rect x="87.7" y="457.3" width="558.9" height="334.8" fill="none" stroke="#9a9a9a" stroke-width="1.7"/>
<line x1="87.7" y1="792.1" x2="87.7" y2="787.1" stroke="#6a6a6a" stroke-width="1.2"/>
<line x1="87.7" y1="457.3" x2="87.7" y2="462.3" stroke="#6a6a6a" stroke-width="1.2"/>
<line x1="199.5" y1="792.1" x2="199.5" y2="787.1" stroke="#6a6a6a" stroke-width="1.2"/>
<line x1="199.5" y1="457.3" x2="199.5" y2="462.3" stroke="#6a6a6a" stroke-width="1.2"/>
<line x1="311.3" y1="792.1" x2="311.3" y2="787.1" stroke="#6a6a6a" stroke-width="1.2"/>
<line x1="311.3" y1="457.3" x2="311.3" y2="462.3" stroke="#6a6a6a" stroke-width="1.2"/>
<line x1="423.0" y1="792.1" x2="423.0" y2="787.1" stroke="#6a6a6a" stroke-width="1.2"/>
<line x1="423.0" y1="457.3" x2="423.0" y2="462.3" stroke="#6a6a6a" stroke-width="1.2"/>
<line x1="534.8" y1="792.1" x2="534.8" y2="787.1" stroke="#6a6a6a" stroke-width="1.2"/>
<line x1="534.8" y1="457.3" x2="534.8" y2="462.3" stroke="#6a6a6a" stroke-width="1.2"/>
<line x1="646.6" y1="792.1" x2="646.6" y2="787.1" stroke="#6a6a6a" stroke-width="1.2"/>
<line x1="646.6" y1="457.3" x2="646.6" y2="462.3" stroke="#6a6a6a" stroke-width="1.2"/>
<line x1="87.7" y1="792.1" x2="92.7" y2="792.1" stroke="#6a6a6a" stroke-width="1.2"/>
<line x1="646.6" y1="792.1" x2="641.6" y2="792.1" stroke="#6a6a6a" stroke-width="1.2"/>
<line x1="87.7" y1="680.5" x2="92.7" y2="680.5" stroke="#6a6a6a" stroke-width="1.2"/>
<line x1="646.6" y1="680.5" x2="641.6" y2="680.5" stroke="#6a6a6a" stroke-width="1.2"/>
<line x1="87.7" y1="568.9" x2="92.7" y2="568.9" stroke="#6a6a6a" stroke-width="1.2"/>
<line x1="646.6" y1="568.9" x2="641.6" y2="568.9" stroke="#6a6a6a" stroke-width="1.2"/>
<line x1="87.7" y1="457.3" x2="92.7" y2="457.3" stroke="#6a6a6a" stroke-width="1.2"/>
<line x1="646.6" y1="457.3" x2="641.6" y2="457.3" stroke="#6a6a6a" stroke-width="1.2"/>
<text transform="translate(87.7 825.5) scale(0.920 1)" text-anchor="middle" font-size="26.5">0</text>
<text transform="translate(199.5 825.5) scale(0.920 1)" text-anchor="middle" font-size="26.5">0.2</text>
<text transform="translate(311.3 825.5) scale(0.920 1)" text-anchor="middle" font-size="26.5">0.4</text>
<text transform="translate(423.0 825.5) scale(0.920 1)" text-anchor="middle" font-size="26.5">0.6</text>
<text transform="translate(534.8 825.5) scale(0.920 1)" text-anchor="middle" font-size="26.5">0.8</text>
<text transform="translate(646.6 825.5) scale(0.920 1)" text-anchor="middle" font-size="26.5">1</text>
<text transform="translate(79.7 802.7) scale(0.920 1)" text-anchor="end" font-size="26.5">0</text>
<text transform="translate(79.7 691.1) scale(0.920 1)" text-anchor="end" font-size="26.5">0.2</text>
<text transform="translate(79.7 579.5) scale(0.920 1)" text-anchor="end" font-size="26.5">0.4</text>
<text transform="translate(79.7 467.9) scale(0.920 1)" text-anchor="end" font-size="26.5">0.6</text>
<text x="367.2" y="861.0" text-anchor="middle" font-size="29">S</text>
<text transform="translate(35.4 624.8) rotate(-90)" text-anchor="middle" font-size="29">G</text>
<text transform="translate(103.0 488.3) scale(0.920 1)" font-size="35.0">c</text>
<g shape-rendering="crispEdges">
<rect x="313.75" y="499.40" width="5.55" height="5.50" fill="#220000"/>
<rect x="308.20" y="504.90" width="5.55" height="5.50" fill="#220000"/>
<rect x="319.30" y="504.90" width="5.55" height="5.50" fill="#220000"/>
<rect x="319.30" y="510.40" width="5.55" height="5.50" fill="#220000"/>
<rect x="324.85" y="510.40" width="5.55" height="5.50" fill="#220000"/>
<rect x="330.40" y="510.40" width="5.55" height="5.50" fill="#220000"/>
<rect x="335.95" y="510.40" width="5.55" height="5.50" fill="#220000"/>
<rect x="341.50" y="510.40" width="5.55" height="5.50" fill="#220000"/>
<rect x="297.10" y="515.90" width="5.55" height="5.50" fill="#220000"/>
<rect x="302.65" y="515.90" width="5.55" height="5.50" fill="#220000"/>
<rect x="308.20" y="515.90" width="5.55" height="5.50" fill="#220000"/>
<rect x="313.75" y="515.90" width="5.55" height="5.50" fill="#220000"/>
<rect x="319.30" y="515.90" width="5.55" height="5.50" fill="#550000"/>
<rect x="324.85" y="515.90" width="5.55" height="5.50" fill="#550000"/>
<rect x="330.40" y="515.90" width="5.55" height="5.50" fill="#550000"/>
<rect x="335.95" y="515.90" width="5.55" height="5.50" fill="#9c0000"/>
<rect x="341.50" y="515.90" width="5.55" height="5.50" fill="#550000"/>
<rect x="347.05" y="515.90" width="5.55" height="5.50" fill="#550000"/>
<rect x="352.60" y="515.90" width="5.55" height="5.50" fill="#220000"/>
<rect x="358.15" y="515.90" width="5.55" height="5.50" fill="#220000"/>
<rect x="363.70" y="515.90" width="5.55" height="5.50" fill="#220000"/>
<rect x="369.25" y="515.90" width="5.55" height="5.50" fill="#220000"/>
<rect x="374.80" y="515.90" width="5.55" height="5.50" fill="#220000"/>
<rect x="380.35" y="515.90" width="5.55" height="5.50" fill="#220000"/>
<rect x="297.10" y="521.40" width="5.55" height="5.50" fill="#220000"/>
<rect x="302.65" y="521.40" width="5.55" height="5.50" fill="#550000"/>
<rect x="308.20" y="521.40" width="5.55" height="5.50" fill="#ffff1f"/>
<rect x="313.75" y="521.40" width="5.55" height="5.50" fill="#ffffb8"/>
<rect x="319.30" y="521.40" width="5.55" height="5.50" fill="#ffffb8"/>
<rect x="324.85" y="521.40" width="5.55" height="5.50" fill="#ffffb8"/>
<rect x="330.40" y="521.40" width="5.55" height="5.50" fill="#ffffb8"/>
<rect x="335.95" y="521.40" width="5.55" height="5.50" fill="#ffff1f"/>
<rect x="341.50" y="521.40" width="5.55" height="5.50" fill="#ff7e00"/>
<rect x="347.05" y="521.40" width="5.55" height="5.50" fill="#ff1100"/>
<rect x="352.60" y="521.40" width="5.55" height="5.50" fill="#9c0000"/>
<rect x="358.15" y="521.40" width="5.55" height="5.50" fill="#550000"/>
<rect x="363.70" y="521.40" width="5.55" height="5.50" fill="#550000"/>
<rect x="369.25" y="521.40" width="5.55" height="5.50" fill="#220000"/>
<rect x="380.35" y="521.40" width="5.55" height="5.50" fill="#220000"/>
<rect x="297.10" y="526.90" width="5.55" height="5.50" fill="#220000"/>
<rect x="302.65" y="526.90" width="5.55" height="5.50" fill="#550000"/>
<rect x="308.20" y="526.90" width="5.55" height="5.50" fill="#ffffb8"/>
<rect x="313.75" y="526.90" width="5.55" height="5.50" fill="#ffffb8"/>
<rect x="319.30" y="526.90" width="5.55" height="5.50" fill="#ffffb8"/>
<rect x="324.85" y="526.90" width="5.55" height="5.50" fill="#ffffb8"/>
<rect x="330.40" y="526.90" width="5.55" height="5.50" fill="#ffffb8"/>
<rect x="335.95" y="526.90" width="5.55" height="5.50" fill="#ffff1f"/>
<rect x="341.50" y="526.90" width="5.55" height="5.50" fill="#ff7e00"/>
<rect x="347.05" y="526.90" width="5.55" height="5.50" fill="#ff1100"/>
<rect x="352.60" y="526.90" width="5.55" height="5.50" fill="#9c0000"/>
<rect x="358.15" y="526.90" width="5.55" height="5.50" fill="#550000"/>
<rect x="363.70" y="526.90" width="5.55" height="5.50" fill="#220000"/>
<rect x="369.25" y="526.90" width="5.55" height="5.50" fill="#220000"/>
<rect x="374.80" y="526.90" width="5.55" height="5.50" fill="#220000"/>
<rect x="380.35" y="526.90" width="5.55" height="5.50" fill="#220000"/>
<rect x="302.65" y="532.40" width="5.55" height="5.50" fill="#550000"/>
<rect x="308.20" y="532.40" width="5.55" height="5.50" fill="#ff3a00"/>
<rect x="313.75" y="532.40" width="5.55" height="5.50" fill="#ffff1f"/>
<rect x="319.30" y="532.40" width="5.55" height="5.50" fill="#ffffb8"/>
<rect x="324.85" y="532.40" width="5.55" height="5.50" fill="#ffffb8"/>
<rect x="330.40" y="532.40" width="5.55" height="5.50" fill="#ffffb8"/>
<rect x="335.95" y="532.40" width="5.55" height="5.50" fill="#ffff1f"/>
<rect x="341.50" y="532.40" width="5.55" height="5.50" fill="#ffbb00"/>
<rect x="347.05" y="532.40" width="5.55" height="5.50" fill="#ff7e00"/>
<rect x="352.60" y="532.40" width="5.55" height="5.50" fill="#ff1100"/>
<rect x="358.15" y="532.40" width="5.55" height="5.50" fill="#9c0000"/>
<rect x="363.70" y="532.40" width="5.55" height="5.50" fill="#550000"/>
<rect x="369.25" y="532.40" width="5.55" height="5.50" fill="#550000"/>
<rect x="374.80" y="532.40" width="5.55" height="5.50" fill="#220000"/>
<rect x="380.35" y="532.40" width="5.55" height="5.50" fill="#220000"/>
<rect x="297.10" y="537.90" width="5.55" height="5.50" fill="#220000"/>
<rect x="302.65" y="537.90" width="5.55" height="5.50" fill="#220000"/>
<rect x="308.20" y="537.90" width="5.55" height="5.50" fill="#550000"/>
<rect x="313.75" y="537.90" width="5.55" height="5.50" fill="#550000"/>
<rect x="319.30" y="537.90" width="5.55" height="5.50" fill="#ff1100"/>
<rect x="324.85" y="537.90" width="5.55" height="5.50" fill="#9c0000"/>
<rect x="330.40" y="537.90" width="5.55" height="5.50" fill="#9c0000"/>
<rect x="335.95" y="537.90" width="5.55" height="5.50" fill="#550000"/>
<rect x="341.50" y="537.90" width="5.55" height="5.50" fill="#550000"/>
<rect x="347.05" y="537.90" width="5.55" height="5.50" fill="#550000"/>
<rect x="352.60" y="537.90" width="5.55" height="5.50" fill="#220000"/>
<rect x="358.15" y="537.90" width="5.55" height="5.50" fill="#220000"/>
<rect x="363.70" y="537.90" width="5.55" height="5.50" fill="#220000"/>
<rect x="369.25" y="537.90" width="5.55" height="5.50" fill="#220000"/>
<rect x="374.80" y="537.90" width="5.55" height="5.50" fill="#220000"/>
<rect x="385.90" y="537.90" width="5.55" height="5.50" fill="#220000"/>
<rect x="391.45" y="537.90" width="5.55" height="5.50" fill="#220000"/>
<rect x="302.65" y="543.40" width="5.55" height="5.50" fill="#220000"/>
<rect x="308.20" y="543.40" width="5.55" height="5.50" fill="#220000"/>
<rect x="313.75" y="543.40" width="5.55" height="5.50" fill="#220000"/>
<rect x="319.30" y="543.40" width="5.55" height="5.50" fill="#550000"/>
<rect x="324.85" y="543.40" width="5.55" height="5.50" fill="#550000"/>
<rect x="330.40" y="543.40" width="5.55" height="5.50" fill="#550000"/>
<rect x="335.95" y="543.40" width="5.55" height="5.50" fill="#550000"/>
<rect x="341.50" y="543.40" width="5.55" height="5.50" fill="#220000"/>
<rect x="347.05" y="543.40" width="5.55" height="5.50" fill="#220000"/>
<rect x="352.60" y="543.40" width="5.55" height="5.50" fill="#220000"/>
<rect x="358.15" y="543.40" width="5.55" height="5.50" fill="#220000"/>
<rect x="363.70" y="543.40" width="5.55" height="5.50" fill="#220000"/>
<rect x="369.25" y="543.40" width="5.55" height="5.50" fill="#220000"/>
<rect x="374.80" y="543.40" width="5.55" height="5.50" fill="#220000"/>
<rect x="380.35" y="543.40" width="5.55" height="5.50" fill="#220000"/>
<rect x="308.20" y="548.90" width="5.55" height="5.50" fill="#220000"/>
<rect x="319.30" y="548.90" width="5.55" height="5.50" fill="#220000"/>
<rect x="324.85" y="548.90" width="5.55" height="5.50" fill="#220000"/>
<rect x="330.40" y="548.90" width="5.55" height="5.50" fill="#220000"/>
<rect x="335.95" y="548.90" width="5.55" height="5.50" fill="#220000"/>
<rect x="341.50" y="548.90" width="5.55" height="5.50" fill="#220000"/>
<rect x="347.05" y="548.90" width="5.55" height="5.50" fill="#220000"/>
<rect x="369.25" y="548.90" width="5.55" height="5.50" fill="#220000"/>
<rect x="374.80" y="548.90" width="5.55" height="5.50" fill="#220000"/>
<rect x="380.35" y="548.90" width="5.55" height="5.50" fill="#220000"/>
<rect x="385.90" y="548.90" width="5.55" height="5.50" fill="#220000"/>
<rect x="402.55" y="548.90" width="5.55" height="5.50" fill="#220000"/>
<rect x="413.65" y="554.40" width="5.55" height="5.50" fill="#220000"/>
<rect x="419.20" y="554.40" width="5.55" height="5.50" fill="#220000"/>
<rect x="408.10" y="559.90" width="5.55" height="5.50" fill="#220000"/>
<rect x="413.65" y="559.90" width="5.55" height="5.50" fill="#220000"/>
<rect x="424.75" y="559.90" width="5.55" height="5.50" fill="#220000"/>
<rect x="446.95" y="559.90" width="5.55" height="5.50" fill="#220000"/>
<rect x="463.60" y="559.90" width="5.55" height="5.50" fill="#220000"/>
<rect x="413.65" y="565.40" width="5.55" height="5.50" fill="#220000"/>
<rect x="419.20" y="565.40" width="5.55" height="5.50" fill="#220000"/>
<rect x="424.75" y="565.40" width="5.55" height="5.50" fill="#220000"/>
<rect x="430.30" y="565.40" width="5.55" height="5.50" fill="#220000"/>
<rect x="441.40" y="565.40" width="5.55" height="5.50" fill="#220000"/>
<rect x="446.95" y="565.40" width="5.55" height="5.50" fill="#220000"/>
<rect x="458.05" y="565.40" width="5.55" height="5.50" fill="#220000"/>
<rect x="419.20" y="570.90" width="5.55" height="5.50" fill="#220000"/>
<rect x="424.75" y="570.90" width="5.55" height="5.50" fill="#550000"/>
<rect x="430.30" y="570.90" width="5.55" height="5.50" fill="#220000"/>
<rect x="435.85" y="570.90" width="5.55" height="5.50" fill="#220000"/>
<rect x="441.40" y="570.90" width="5.55" height="5.50" fill="#220000"/>
<rect x="446.95" y="570.90" width="5.55" height="5.50" fill="#220000"/>
<rect x="452.50" y="570.90" width="5.55" height="5.50" fill="#220000"/>
<rect x="469.15" y="570.90" width="5.55" height="5.50" fill="#220000"/>
<rect x="419.20" y="576.40" width="5.55" height="5.50" fill="#220000"/>
<rect x="430.30" y="576.40" width="5.55" height="5.50" fill="#220000"/>
<rect x="435.85" y="576.40" width="5.55" height="5.50" fill="#220000"/>
<rect x="441.40" y="576.40" width="5.55" height="5.50" fill="#220000"/>
<rect x="446.95" y="576.40" width="5.55" height="5.50" fill="#220000"/>
<rect x="452.50" y="576.40" width="5.55" height="5.50" fill="#220000"/>
<rect x="458.05" y="576.40" width="5.55" height="5.50" fill="#220000"/>
<rect x="424.75" y="581.90" width="5.55" height="5.50" fill="#220000"/>
<rect x="430.30" y="581.90" width="5.55" height="5.50" fill="#220000"/>
<rect x="435.85" y="581.90" width="5.55" height="5.50" fill="#220000"/>
<rect x="441.40" y="581.90" width="5.55" height="5.50" fill="#220000"/>
<rect x="446.95" y="581.90" width="5.55" height="5.50" fill="#550000"/>
<rect x="452.50" y="581.90" width="5.55" height="5.50" fill="#220000"/>
<rect x="458.05" y="581.90" width="5.55" height="5.50" fill="#550000"/>
<rect x="446.95" y="587.40" width="5.55" height="5.50" fill="#220000"/>
<rect x="452.50" y="587.40" width="5.55" height="5.50" fill="#220000"/>
<rect x="458.05" y="587.40" width="5.55" height="5.50" fill="#220000"/>
<rect x="463.60" y="587.40" width="5.55" height="5.50" fill="#220000"/>
<rect x="469.15" y="587.40" width="5.55" height="5.50" fill="#220000"/>
<rect x="458.05" y="592.90" width="5.55" height="5.50" fill="#220000"/>
<rect x="463.60" y="592.90" width="5.55" height="5.50" fill="#220000"/>
<rect x="469.15" y="592.90" width="5.55" height="5.50" fill="#220000"/>
<rect x="463.60" y="603.90" width="5.55" height="5.50" fill="#220000"/>
</g>
<polyline points="87.70,792.10 87.71,789.67 87.74,787.23 87.80,784.80 87.87,782.36 87.97,779.93 88.08,777.50 88.22,775.07 88.38,772.64 88.56,770.21 88.76,767.78 88.99,765.36 89.23,762.94 89.50,760.52 89.78,758.10 90.09,755.68 90.42,753.27 90.77,750.86 91.14,748.45 91.53,746.05 91.95,743.65 92.38,741.26 92.83,738.86 93.31,736.48 93.81,734.09 94.32,731.71 94.86,729.34 95.42,726.97 96.00,724.60 96.60,722.24 97.22,719.89 97.86,717.54 98.53,715.20 99.21,712.86 99.91,710.53 100.63,708.20 101.38,705.88 102.14,703.57 102.92,701.27 103.73,698.97 104.55,696.68 105.40,694.39 106.26,692.12 107.14,689.85 108.05,687.58 108.97,685.33 109.91,683.09 110.88,680.85 111.86,678.62 112.86,676.40 113.88,674.19 114.92,671.99 115.98,669.79 117.06,667.61 118.16,665.44 119.27,663.27 120.41,661.12 121.56,658.97 122.74,656.84 123.93,654.71 125.14,652.60 126.37,650.50 127.61,648.40 128.88,646.32 130.16,644.25 131.46,642.19 132.78,640.15 134.12,638.11 135.48,636.09 136.85,634.07 138.24,632.07 139.65,630.08 141.07,628.11 142.51,626.14 143.97,624.19 145.45,622.26 146.94,620.33 148.45,618.42 149.98,616.52 151.52,614.63 153.08,612.76 154.65,610.90 156.25,609.06 157.85,607.23 159.48,605.41 161.12,603.61 162.77,601.82 164.44,600.05 166.13,598.29 167.83,596.55 169.55,594.82 171.28,593.10 173.03,591.40 174.79,589.72 176.57,588.05 178.36,586.40 180.16,584.76 181.98,583.14 183.81,581.54 185.66,579.95 187.52,578.37 189.40,576.82 191.29,575.28 193.19,573.75 195.10,572.24 197.03,570.75 198.97,569.28 200.93,567.82 202.89,566.38 204.87,564.96 206.86,563.56 208.87,562.17 210.88,560.80 212.91,559.45 214.95,558.11 217.00,556.79 219.06,555.49 221.14,554.21 223.22,552.95 225.32,551.71 227.42,550.48 229.54,549.27 231.67,548.08 233.81,546.91 235.96,545.76 238.11,544.62 240.28,543.51 242.46,542.41 244.65,541.34 246.84,540.28 249.05,539.24 251.26,538.22 253.49,537.22 255.72,536.24 257.96,535.28 260.21,534.34 262.47,533.42 264.73,532.51 267.00,531.63 269.28,530.77 271.57,529.93 273.87,529.10 276.17,528.30 278.48,527.52 280.80,526.76 283.12,526.01 285.45,525.29 287.78,524.59 290.12,523.91 292.47,523.25 294.82,522.61 297.18,521.99 299.54,521.39 301.91,520.81 304.29,520.25 306.67,519.71 309.05,519.20 311.44,518.70 313.83,518.23 316.22,517.77 318.62,517.34 321.03,516.93 323.43,516.53 325.84,516.16 328.26,515.82 330.67,515.49 333.09,515.18 335.52,514.89 337.94,514.63 340.37,514.38 342.79,514.16 345.22,513.96 347.66,513.78 350.09,513.62 352.52,513.48 354.96,513.37 357.40,513.27 359.83,513.20 362.27,513.14 364.71,513.11 367.15,513.10 369.59,513.11 372.03,513.14 374.47,513.20 376.90,513.27 379.34,513.37 381.78,513.48 384.21,513.62 386.64,513.78 389.08,513.96 391.51,514.16 393.93,514.38 396.36,514.63 398.78,514.89 401.21,515.18 403.63,515.49 406.04,515.82 408.46,516.16 410.87,516.53 413.27,516.93 415.68,517.34 418.08,517.77 420.47,518.23 422.86,518.70 425.25,519.20 427.63,519.71 430.01,520.25 432.39,520.81 434.76,521.39 437.12,521.99 439.48,522.61 441.83,523.25 444.18,523.91 446.52,524.59 448.85,525.29 451.18,526.01 453.50,526.76 455.82,527.52 458.13,528.30 460.43,529.10 462.73,529.93 465.02,530.77 467.30,531.63 469.57,532.51 471.83,533.42 474.09,534.34 476.34,535.28 478.58,536.24 480.81,537.22 483.04,538.22 485.25,539.24 487.46,540.28 489.65,541.34 491.84,542.41 494.02,543.51 496.19,544.62 498.34,545.76 500.49,546.91 502.63,548.08 504.76,549.27 506.87,550.48 508.98,551.71 511.08,552.95 513.16,554.21 515.24,555.49 517.30,556.79 519.35,558.11 521.39,559.45 523.42,560.80 525.43,562.17 527.44,563.56 529.43,564.96 531.41,566.38 533.37,567.82 535.33,569.28 537.27,570.75 539.20,572.24 541.11,573.75 543.01,575.28 544.90,576.82 546.78,578.37 548.64,579.95 550.49,581.54 552.32,583.14 554.14,584.76 555.94,586.40 557.73,588.05 559.51,589.72 561.27,591.40 563.02,593.10 564.75,594.82 566.47,596.55 568.17,598.29 569.86,600.05 571.53,601.82 573.18,603.61 574.82,605.41 576.45,607.23 578.05,609.06 579.65,610.90 581.22,612.76 582.78,614.63 584.32,616.52 585.85,618.42 587.36,620.33 588.85,622.26 590.33,624.19 591.79,626.14 593.23,628.11 594.65,630.08 596.06,632.07 597.45,634.07 598.82,636.09 600.18,638.11 601.52,640.15 602.84,642.19 604.14,644.25 605.42,646.32 606.69,648.40 607.93,650.50 609.16,652.60 610.37,654.71 611.56,656.84 612.74,658.97 613.89,661.12 615.03,663.27 616.14,665.44 617.24,667.61 618.32,669.79 619.38,671.99 620.42,674.19 621.44,676.40 622.44,678.62 623.42,680.85 624.39,683.09 625.33,685.33 626.25,687.58 627.16,689.85 628.04,692.12 628.90,694.39 629.75,696.68 630.57,698.97 631.38,701.27 632.16,703.57 632.92,705.88 633.67,708.20 634.39,710.53 635.09,712.86 635.77,715.20 636.44,717.54 637.08,719.89 637.70,722.24 638.30,724.60 638.88,726.97 639.44,729.34 639.98,731.71 640.49,734.09 640.99,736.48 641.47,738.86 641.92,741.26 642.35,743.65 642.77,746.05 643.16,748.45 643.53,750.86 643.88,753.27 644.21,755.68 644.52,758.10 644.80,760.52 645.07,762.94 645.31,765.36 645.54,767.78 645.74,770.21 645.92,772.64 646.08,775.07 646.22,777.50 646.33,779.93 646.43,782.36 646.50,784.80 646.56,787.23 646.59,789.67 646.60,792.10" fill="none" stroke="#000" stroke-width="3.60"/>
<line x1="87.7" y1="529.6" x2="646.6" y2="529.6" stroke="#0000a8" stroke-width="3.0"/>
<circle cx="271.7" cy="529.6" r="5.4" fill="none" stroke="#1fe01f" stroke-width="2.7"/>
<circle cx="461.8" cy="529.6" r="5.4" fill="none" stroke="#1fe01f" stroke-width="2.7"/>
<text x="225.0" y="511.6" font-size="21" fill="#0000d2" text-anchor="start">2.4 ns</text>
<text x="463.0" y="516.8" font-size="21" fill="#0000d2" text-anchor="start">1.2 ns</text>
<rect x="655.70" y="785.97" width="25.80" height="5.83" fill="#ffffff"/>
<rect x="655.70" y="780.74" width="25.80" height="5.83" fill="#150000"/>
<rect x="655.70" y="775.51" width="25.80" height="5.83" fill="#200000"/>
<rect x="655.70" y="770.28" width="25.80" height="5.83" fill="#2a0000"/>
<rect x="655.70" y="765.04" width="25.80" height="5.83" fill="#350000"/>
<rect x="655.70" y="759.81" width="25.80" height="5.83" fill="#400000"/>
<rect x="655.70" y="754.58" width="25.80" height="5.83" fill="#4a0000"/>
<rect x="655.70" y="749.35" width="25.80" height="5.83" fill="#550000"/>
<rect x="655.70" y="744.12" width="25.80" height="5.83" fill="#600000"/>
<rect x="655.70" y="738.89" width="25.80" height="5.83" fill="#6a0000"/>
<rect x="655.70" y="733.66" width="25.80" height="5.83" fill="#750000"/>
<rect x="655.70" y="728.43" width="25.80" height="5.83" fill="#800000"/>
<rect x="655.70" y="723.19" width="25.80" height="5.83" fill="#8a0000"/>
<rect x="655.70" y="717.96" width="25.80" height="5.83" fill="#950000"/>
<rect x="655.70" y="712.73" width="25.80" height="5.83" fill="#9f0000"/>
<rect x="655.70" y="707.50" width="25.80" height="5.83" fill="#aa0000"/>
<rect x="655.70" y="702.27" width="25.80" height="5.83" fill="#b50000"/>
<rect x="655.70" y="697.04" width="25.80" height="5.83" fill="#bf0000"/>
<rect x="655.70" y="691.81" width="25.80" height="5.83" fill="#ca0000"/>
<rect x="655.70" y="686.58" width="25.80" height="5.83" fill="#d40000"/>
<rect x="655.70" y="681.34" width="25.80" height="5.83" fill="#df0000"/>
<rect x="655.70" y="676.11" width="25.80" height="5.83" fill="#ea0000"/>
<rect x="655.70" y="670.88" width="25.80" height="5.83" fill="#f40000"/>
<rect x="655.70" y="665.65" width="25.80" height="5.83" fill="#ff0000"/>
<rect x="655.70" y="660.42" width="25.80" height="5.83" fill="#ff0b00"/>
<rect x="655.70" y="655.19" width="25.80" height="5.83" fill="#ff1500"/>
<rect x="655.70" y="649.96" width="25.80" height="5.83" fill="#ff2000"/>
<rect x="655.70" y="644.73" width="25.80" height="5.83" fill="#ff2a00"/>
<rect x="655.70" y="639.49" width="25.80" height="5.83" fill="#ff3500"/>
<rect x="655.70" y="634.26" width="25.80" height="5.83" fill="#ff4000"/>
<rect x="655.70" y="629.03" width="25.80" height="5.83" fill="#ff4a00"/>
<rect x="655.70" y="623.80" width="25.80" height="5.83" fill="#ff5500"/>
<rect x="655.70" y="618.57" width="25.80" height="5.83" fill="#ff6000"/>
<rect x="655.70" y="613.34" width="25.80" height="5.83" fill="#ff6a00"/>
<rect x="655.70" y="608.11" width="25.80" height="5.83" fill="#ff7500"/>
<rect x="655.70" y="602.88" width="25.80" height="5.83" fill="#ff8000"/>
<rect x="655.70" y="597.64" width="25.80" height="5.83" fill="#ff8a00"/>
<rect x="655.70" y="592.41" width="25.80" height="5.83" fill="#ff9500"/>
<rect x="655.70" y="587.18" width="25.80" height="5.83" fill="#ff9f00"/>
<rect x="655.70" y="581.95" width="25.80" height="5.83" fill="#ffaa00"/>
<rect x="655.70" y="576.72" width="25.80" height="5.83" fill="#ffb500"/>
<rect x="655.70" y="571.49" width="25.80" height="5.83" fill="#ffbf00"/>
<rect x="655.70" y="566.26" width="25.80" height="5.83" fill="#ffca00"/>
<rect x="655.70" y="561.02" width="25.80" height="5.83" fill="#ffd400"/>
<rect x="655.70" y="555.79" width="25.80" height="5.83" fill="#ffdf00"/>
<rect x="655.70" y="550.56" width="25.80" height="5.83" fill="#ffea00"/>
<rect x="655.70" y="545.33" width="25.80" height="5.83" fill="#fff400"/>
<rect x="655.70" y="540.10" width="25.80" height="5.83" fill="#ffff00"/>
<rect x="655.70" y="534.87" width="25.80" height="5.83" fill="#ffff10"/>
<rect x="655.70" y="529.64" width="25.80" height="5.83" fill="#ffff20"/>
<rect x="655.70" y="524.41" width="25.80" height="5.83" fill="#ffff30"/>
<rect x="655.70" y="519.17" width="25.80" height="5.83" fill="#ffff40"/>
<rect x="655.70" y="513.94" width="25.80" height="5.83" fill="#ffff50"/>
<rect x="655.70" y="508.71" width="25.80" height="5.83" fill="#ffff60"/>
<rect x="655.70" y="503.48" width="25.80" height="5.83" fill="#ffff70"/>
<rect x="655.70" y="498.25" width="25.80" height="5.83" fill="#ffff80"/>
<rect x="655.70" y="493.02" width="25.80" height="5.83" fill="#ffff8f"/>
<rect x="655.70" y="487.79" width="25.80" height="5.83" fill="#ffff9f"/>
<rect x="655.70" y="482.56" width="25.80" height="5.83" fill="#ffffaf"/>
<rect x="655.70" y="477.32" width="25.80" height="5.83" fill="#ffffbf"/>
<rect x="655.70" y="472.09" width="25.80" height="5.83" fill="#ffffcf"/>
<rect x="655.70" y="466.86" width="25.80" height="5.83" fill="#ffffdf"/>
<rect x="655.70" y="461.63" width="25.80" height="5.83" fill="#ffffef"/>
<rect x="655.70" y="456.40" width="25.80" height="5.83" fill="#ffffff"/>
<rect x="655.7" y="456.4" width="25.8" height="334.8" fill="none" stroke="#777" stroke-width="1.2"/>
<text transform="translate(690.0 800.8) scale(0.945 1)" font-size="23.2">0</text>
<line x1="677.5" y1="703.1" x2="681.5" y2="703.1" stroke="#555" stroke-width="1.2"/>
<text transform="translate(690.0 712.7) scale(0.945 1)" font-size="23.2">50</text>
<line x1="677.5" y1="615.0" x2="681.5" y2="615.0" stroke="#555" stroke-width="1.2"/>
<text transform="translate(690.0 624.6) scale(0.945 1)" font-size="23.2">100</text>
<line x1="677.5" y1="526.9" x2="681.5" y2="526.9" stroke="#555" stroke-width="1.2"/>
<text transform="translate(690.0 536.5) scale(0.945 1)" font-size="23.2">150</text>
<text transform="translate(748.5 624.5) rotate(-90)" text-anchor="middle" font-size="22.6" style="font-weight:normal" stroke="#000" stroke-width="0.6">Phasor Counts</text>
<line x1="866.0" y1="740.5" x2="1468.8" y2="740.5" stroke="#ebebeb" stroke-width="1.5"/>
<line x1="866.0" y1="665.6" x2="1468.8" y2="665.6" stroke="#ebebeb" stroke-width="1.5"/>
<line x1="866.0" y1="590.6" x2="1468.8" y2="590.6" stroke="#ebebeb" stroke-width="1.5"/>
<line x1="866.0" y1="515.7" x2="1468.8" y2="515.7" stroke="#ebebeb" stroke-width="1.5"/>
<rect x="866.0" y="440.7" width="602.8" height="374.8" fill="none" stroke="#9a9a9a" stroke-width="1.6"/>
<rect x="891.12" y="485.98" width="150.70" height="329.52" fill="#0072bd" stroke="#000" stroke-width="1.6"/>
<rect x="1092.05" y="518.51" width="150.70" height="296.99" fill="#edb120" stroke="#000" stroke-width="1.6"/>
<rect x="1292.98" y="543.99" width="150.70" height="271.51" fill="#a2142f" stroke="#000" stroke-width="1.6"/>
<line x1="966.47" y1="478.63" x2="966.47" y2="493.32" stroke="#000" stroke-width="2"/>
<line x1="963.47" y1="478.63" x2="969.47" y2="478.63" stroke="#000" stroke-width="2"/>
<line x1="963.47" y1="493.32" x2="969.47" y2="493.32" stroke="#000" stroke-width="2"/>
<circle cx="966.47" cy="485.98" r="3.9" fill="#000"/>
<line x1="1167.40" y1="509.51" x2="1167.40" y2="527.50" stroke="#000" stroke-width="2"/>
<line x1="1164.40" y1="509.51" x2="1170.40" y2="509.51" stroke="#000" stroke-width="2"/>
<line x1="1164.40" y1="527.50" x2="1170.40" y2="527.50" stroke="#000" stroke-width="2"/>
<circle cx="1167.40" cy="518.51" r="3.9" fill="#000"/>
<line x1="1368.33" y1="533.65" x2="1368.33" y2="554.34" stroke="#000" stroke-width="2"/>
<line x1="1365.33" y1="533.65" x2="1371.33" y2="533.65" stroke="#000" stroke-width="2"/>
<line x1="1365.33" y1="554.34" x2="1371.33" y2="554.34" stroke="#000" stroke-width="2"/>
<circle cx="1368.33" cy="543.99" r="3.9" fill="#000"/>
<line x1="866.0" y1="815.5" x2="871.0" y2="815.5" stroke="#6a6a6a" stroke-width="1.2"/>
<line x1="1468.8" y1="815.5" x2="1463.8" y2="815.5" stroke="#6a6a6a" stroke-width="1.2"/>
<text x="859.0" y="822.8" text-anchor="end" font-size="19">0</text>
<line x1="866.0" y1="740.5" x2="871.0" y2="740.5" stroke="#6a6a6a" stroke-width="1.2"/>
<line x1="1468.8" y1="740.5" x2="1463.8" y2="740.5" stroke="#6a6a6a" stroke-width="1.2"/>
<text x="859.0" y="747.8" text-anchor="end" font-size="19">0.5</text>
<line x1="866.0" y1="665.6" x2="871.0" y2="665.6" stroke="#6a6a6a" stroke-width="1.2"/>
<line x1="1468.8" y1="665.6" x2="1463.8" y2="665.6" stroke="#6a6a6a" stroke-width="1.2"/>
<text x="859.0" y="672.9" text-anchor="end" font-size="19">1</text>
<line x1="866.0" y1="590.6" x2="871.0" y2="590.6" stroke="#6a6a6a" stroke-width="1.2"/>
<line x1="1468.8" y1="590.6" x2="1463.8" y2="590.6" stroke="#6a6a6a" stroke-width="1.2"/>
<text x="859.0" y="597.9" text-anchor="end" font-size="19">1.5</text>
<line x1="866.0" y1="515.7" x2="871.0" y2="515.7" stroke="#6a6a6a" stroke-width="1.2"/>
<line x1="1468.8" y1="515.7" x2="1463.8" y2="515.7" stroke="#6a6a6a" stroke-width="1.2"/>
<text x="859.0" y="523.0" text-anchor="end" font-size="19">2</text>
<line x1="866.0" y1="440.7" x2="871.0" y2="440.7" stroke="#6a6a6a" stroke-width="1.2"/>
<line x1="1468.8" y1="440.7" x2="1463.8" y2="440.7" stroke="#6a6a6a" stroke-width="1.2"/>
<text x="859.0" y="448.0" text-anchor="end" font-size="19">2.5</text>
<line x1="966.5" y1="815.5" x2="966.5" y2="809.5" stroke="#6a6a6a" stroke-width="1.2"/>
<line x1="966.5" y1="440.7" x2="966.5" y2="445.7" stroke="#6a6a6a" stroke-width="1.2"/>
<text x="967.0" y="839.0" text-anchor="middle" font-size="17.6" letter-spacing="1.0">Control</text>
<line x1="1167.4" y1="815.5" x2="1167.4" y2="809.5" stroke="#6a6a6a" stroke-width="1.2"/>
<line x1="1167.4" y1="440.7" x2="1167.4" y2="445.7" stroke="#6a6a6a" stroke-width="1.2"/>
<text x="1167.9" y="839.0" text-anchor="middle" font-size="17.6" letter-spacing="1.0">Grade I</text>
<line x1="1368.3" y1="815.5" x2="1368.3" y2="809.5" stroke="#6a6a6a" stroke-width="1.2"/>
<line x1="1368.3" y1="440.7" x2="1368.3" y2="445.7" stroke="#6a6a6a" stroke-width="1.2"/>
<text x="1368.8" y="839.0" text-anchor="middle" font-size="17.6" letter-spacing="1.0">GradeII</text>
<text transform="translate(824.0 627.0) rotate(-90)" text-anchor="middle" font-size="21.55" style="font-weight:normal" stroke="#000" stroke-width="0.4">Fluorescence Lifetime [ns]</text>
<text x="1404.0" y="488.9" font-size="37">d</text>
</svg></body></html>
